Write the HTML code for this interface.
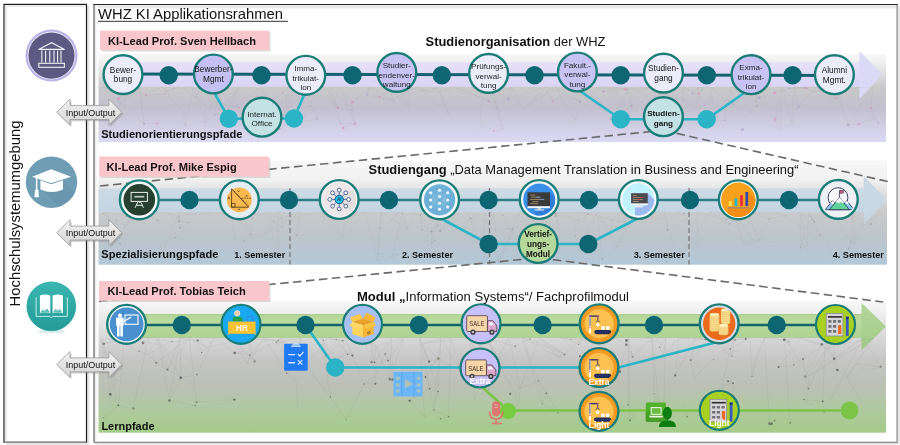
<!DOCTYPE html><html><head><meta charset="utf-8"><style>
html,body{margin:0;padding:0;background:#fff;width:900px;height:445px;overflow:hidden}
svg{display:block;font-family:"Liberation Sans", sans-serif;will-change:transform}
</style></head><body>
<svg width="900" height="445" viewBox="0 0 900 445">
<defs>
<linearGradient id="gTopSh" x1="0" y1="0" x2="0" y2="1"><stop offset="0" stop-color="#efefef"/><stop offset="0.4" stop-color="#e5e5e5"/><stop offset="1" stop-color="#ffffff"/></linearGradient>
<linearGradient id="gLeftSh" x1="0" y1="0" x2="1" y2="0"><stop offset="0" stop-color="#e8e8e8"/><stop offset="1" stop-color="#ffffff"/></linearGradient>
<linearGradient id="gIO" x1="0" y1="0" x2="0" y2="1"><stop offset="0" stop-color="#f2f2f2"/><stop offset="1" stop-color="#d4d4d4"/></linearGradient>
<linearGradient id="gB1" x1="0" y1="54" x2="0" y2="142" gradientUnits="userSpaceOnUse">
 <stop offset="0" stop-color="#f7f7f7"/><stop offset="0.09" stop-color="#f0f0f0"/>
 <stop offset="0.38" stop-color="#c9c9cb"/><stop offset="0.6" stop-color="#c2c0cc"/>
 <stop offset="1" stop-color="#dcd9f5"/></linearGradient>
<linearGradient id="gB2" x1="0" y1="160.8" x2="0" y2="264.7" gradientUnits="userSpaceOnUse">
 <stop offset="0" stop-color="#f7f7f7"/><stop offset="0.18" stop-color="#f1f1f1"/><stop offset="0.26" stop-color="#e6e6e6"/>
 <stop offset="0.5" stop-color="#c9c9ca"/><stop offset="0.75" stop-color="#bcc4cb"/>
 <stop offset="1" stop-color="#b3c8d8"/></linearGradient>
<linearGradient id="gB3" x1="0" y1="301" x2="0" y2="433" gradientUnits="userSpaceOnUse">
 <stop offset="0" stop-color="#f8f8f8"/><stop offset="0.08" stop-color="#f0f0f0"/>
 <stop offset="0.29" stop-color="#d6d6d6"/><stop offset="0.44" stop-color="#c6c6c6"/>
 <stop offset="0.63" stop-color="#bcc0b6"/><stop offset="0.8" stop-color="#b0c8a2"/>
 <stop offset="1" stop-color="#a4cc88"/></linearGradient>
<linearGradient id="gBand1" x1="0" y1="62.3" x2="0" y2="86.8" gradientUnits="userSpaceOnUse"><stop offset="0" stop-color="#e6e0fa"/><stop offset="1" stop-color="#dad4f6"/></linearGradient>
<linearGradient id="gBand2" x1="0" y1="188.3" x2="0" y2="212.4" gradientUnits="userSpaceOnUse"><stop offset="0" stop-color="#cedbe7"/><stop offset="1" stop-color="#c3d4e2"/></linearGradient>
<linearGradient id="gHead3" x1="0" y1="0" x2="0" y2="1"><stop offset="0" stop-color="#b2d69a"/><stop offset="1" stop-color="#a4cc88"/></linearGradient>
<linearGradient id="gBand3" x1="0" y1="314" x2="0" y2="338" gradientUnits="userSpaceOnUse"><stop offset="0" stop-color="#a8c890"/><stop offset="0.06" stop-color="#b4d696"/><stop offset="0.3" stop-color="#bcdca0"/><stop offset="0.6" stop-color="#b4d696"/><stop offset="1" stop-color="#aed292"/></linearGradient>
<linearGradient id="gBook" x1="0" y1="0" x2="0" y2="1"><stop offset="0" stop-color="#3ab5b0"/><stop offset="1" stop-color="#249c98"/></linearGradient>
</defs>

<path d="M88.2,6 V443.8 H6" fill="none" stroke="#e2e2e2" stroke-width="2"/>
<path d="M899,6 V443.8 H95" fill="none" stroke="#e2e2e2" stroke-width="1.6"/>
<rect x="4" y="4.4" width="82.5" height="437.9" fill="#fff" stroke="#1a1a1a" stroke-width="1.2"/>
<path d="M6,441 V6 H85.5" fill="none" stroke="#ebebeb" stroke-width="2.2"/>
<path d="M4,442.3 H86.5" fill="none" stroke="#8e8e8e" stroke-width="1.2"/>
<rect x="94" y="4.4" width="803.1" height="437.9" fill="#fff"/>
<rect x="95" y="5" width="801.5" height="4.5" fill="url(#gTopSh)"/>
<rect x="94.8" y="5" width="2.6" height="437" fill="url(#gLeftSh)"/>
<path d="M897.1,4.4 V442.3 H94" fill="none" stroke="#8c8c8c" stroke-width="1.3"/>
<path d="M94,442.3 V4.4" fill="none" stroke="#7c7c7c" stroke-width="1.5"/>
<path d="M93.3,4.45 H897.7" fill="none" stroke="#262626" stroke-width="1.1"/>
<text x="98" y="19.2" font-size="14.8" fill="#111">WHZ KI Applikationsrahmen</text>
<rect x="98" y="20.8" width="190" height="1" fill="#333"/>
<text transform="translate(19.8,306.4) rotate(-90)" font-size="14.8" fill="#111">Hochschulsystemumgebung</text>
<rect x="98.5" y="54" width="787.5" height="88" fill="url(#gB1)"/>
<rect x="112" y="62.3" width="748" height="24.5" fill="url(#gBand1)"/><polygon points="859.5,51.2 882.7,74.6 859.5,98.7" fill="#dcd9f6"/>
<g stroke="#7a7a7a" stroke-width="0.45" opacity="0.15"><line x1="101.8" y1="87.0" x2="134.1" y2="114.0"/><line x1="101.8" y1="87.0" x2="127.1" y2="93.3"/><line x1="101.8" y1="87.0" x2="146.1" y2="95.2"/><line x1="133.5" y1="87.0" x2="146.1" y2="95.2"/><line x1="133.5" y1="87.0" x2="119.9" y2="105.5"/><line x1="133.5" y1="87.0" x2="118.5" y2="98.6"/><line x1="139.8" y1="87.0" x2="116.3" y2="88.1"/><line x1="139.8" y1="87.0" x2="119.9" y2="105.5"/><line x1="139.8" y1="87.0" x2="144.0" y2="123.7"/><line x1="162.6" y1="87.0" x2="166.4" y2="91.1"/><line x1="162.6" y1="87.0" x2="181.9" y2="111.9"/><line x1="162.6" y1="87.0" x2="146.1" y2="95.2"/><line x1="193.9" y1="87.0" x2="181.8" y2="88.3"/><line x1="193.9" y1="87.0" x2="185.3" y2="125.6"/><line x1="193.9" y1="87.0" x2="205.3" y2="122.3"/><line x1="204.6" y1="87.0" x2="214.8" y2="114.8"/><line x1="204.6" y1="87.0" x2="194.8" y2="96.4"/><line x1="204.6" y1="87.0" x2="225.1" y2="104.9"/><line x1="219.4" y1="87.0" x2="214.8" y2="114.8"/><line x1="219.4" y1="87.0" x2="231.8" y2="94.3"/><line x1="219.4" y1="87.0" x2="205.3" y2="122.3"/><line x1="239.8" y1="87.0" x2="225.6" y2="114.0"/><line x1="239.8" y1="87.0" x2="225.1" y2="104.9"/><line x1="239.8" y1="87.0" x2="214.8" y2="114.8"/><line x1="260.6" y1="87.0" x2="271.5" y2="101.7"/><line x1="260.6" y1="87.0" x2="275.0" y2="111.0"/><line x1="260.6" y1="87.0" x2="235.6" y2="105.9"/><line x1="288.1" y1="87.0" x2="284.0" y2="115.2"/><line x1="288.1" y1="87.0" x2="297.8" y2="88.0"/><line x1="288.1" y1="87.0" x2="282.7" y2="92.9"/><line x1="297.6" y1="87.0" x2="300.2" y2="122.0"/><line x1="297.6" y1="87.0" x2="284.0" y2="115.2"/><line x1="297.6" y1="87.0" x2="275.0" y2="111.0"/><line x1="329.9" y1="87.0" x2="337.8" y2="107.8"/><line x1="329.9" y1="87.0" x2="340.2" y2="123.0"/><line x1="329.9" y1="87.0" x2="351.9" y2="110.1"/><line x1="341.1" y1="87.0" x2="332.1" y2="103.5"/><line x1="341.1" y1="87.0" x2="355.1" y2="123.8"/><line x1="341.1" y1="87.0" x2="352.4" y2="102.3"/><line x1="370.0" y1="87.0" x2="366.8" y2="94.9"/><line x1="370.0" y1="87.0" x2="393.8" y2="100.8"/><line x1="370.0" y1="87.0" x2="352.4" y2="102.3"/><line x1="388.7" y1="87.0" x2="393.8" y2="100.8"/><line x1="388.7" y1="87.0" x2="408.6" y2="91.1"/><line x1="388.7" y1="87.0" x2="379.7" y2="97.0"/><line x1="398.6" y1="87.0" x2="409.6" y2="107.2"/><line x1="398.6" y1="87.0" x2="430.0" y2="91.6"/><line x1="398.6" y1="87.0" x2="408.6" y2="91.1"/><line x1="417.6" y1="87.0" x2="449.2" y2="115.0"/><line x1="417.6" y1="87.0" x2="430.0" y2="91.6"/><line x1="417.6" y1="87.0" x2="408.6" y2="91.1"/><line x1="440.7" y1="87.0" x2="396.3" y2="97.0"/><line x1="440.7" y1="87.0" x2="430.0" y2="91.6"/><line x1="440.7" y1="87.0" x2="439.4" y2="91.8"/><line x1="454.4" y1="87.0" x2="488.4" y2="101.3"/><line x1="454.4" y1="87.0" x2="495.7" y2="102.9"/><line x1="454.4" y1="87.0" x2="439.4" y2="91.8"/><line x1="482.6" y1="87.0" x2="508.4" y2="98.9"/><line x1="482.6" y1="87.0" x2="495.7" y2="102.9"/><line x1="482.6" y1="87.0" x2="479.8" y2="131.0"/><line x1="492.6" y1="87.0" x2="483.9" y2="88.2"/><line x1="492.6" y1="87.0" x2="502.8" y2="128.9"/><line x1="492.6" y1="87.0" x2="498.6" y2="118.2"/><line x1="511.8" y1="87.0" x2="522.2" y2="109.7"/><line x1="511.8" y1="87.0" x2="499.9" y2="92.2"/><line x1="511.8" y1="87.0" x2="508.4" y2="98.9"/><line x1="546.6" y1="87.0" x2="522.2" y2="109.7"/><line x1="546.6" y1="87.0" x2="508.4" y2="98.9"/><line x1="546.6" y1="87.0" x2="580.2" y2="101.6"/><line x1="555.4" y1="87.0" x2="574.8" y2="120.5"/><line x1="555.4" y1="87.0" x2="580.2" y2="101.6"/><line x1="555.4" y1="87.0" x2="522.2" y2="109.7"/><line x1="579.8" y1="87.0" x2="546.9" y2="91.9"/><line x1="579.8" y1="87.0" x2="553.0" y2="101.7"/><line x1="579.8" y1="87.0" x2="610.8" y2="118.8"/><line x1="597.1" y1="87.0" x2="603.6" y2="91.5"/><line x1="597.1" y1="87.0" x2="574.8" y2="120.5"/><line x1="597.1" y1="87.0" x2="625.6" y2="89.2"/><line x1="614.5" y1="87.0" x2="603.6" y2="91.5"/><line x1="614.5" y1="87.0" x2="628.8" y2="121.7"/><line x1="614.5" y1="87.0" x2="625.6" y2="89.2"/><line x1="630.2" y1="87.0" x2="625.6" y2="89.2"/><line x1="630.2" y1="87.0" x2="610.8" y2="118.8"/><line x1="630.2" y1="87.0" x2="657.9" y2="101.5"/><line x1="663.1" y1="87.0" x2="651.2" y2="112.4"/><line x1="663.1" y1="87.0" x2="627.7" y2="89.1"/><line x1="663.1" y1="87.0" x2="652.0" y2="104.0"/><line x1="683.6" y1="87.0" x2="692.4" y2="93.5"/><line x1="683.6" y1="87.0" x2="698.8" y2="93.7"/><line x1="683.6" y1="87.0" x2="683.2" y2="99.8"/><line x1="703.2" y1="87.0" x2="697.6" y2="88.0"/><line x1="703.2" y1="87.0" x2="695.1" y2="108.5"/><line x1="703.2" y1="87.0" x2="698.8" y2="93.7"/><line x1="709.3" y1="87.0" x2="697.6" y2="88.0"/><line x1="709.3" y1="87.0" x2="725.2" y2="99.7"/><line x1="709.3" y1="87.0" x2="717.9" y2="121.2"/><line x1="730.6" y1="87.0" x2="749.0" y2="88.1"/><line x1="730.6" y1="87.0" x2="734.4" y2="104.4"/><line x1="730.6" y1="87.0" x2="724.9" y2="120.5"/><line x1="756.5" y1="87.0" x2="734.4" y2="104.4"/><line x1="756.5" y1="87.0" x2="759.4" y2="97.8"/><line x1="756.5" y1="87.0" x2="756.7" y2="106.3"/><line x1="781.8" y1="87.0" x2="775.0" y2="119.4"/><line x1="781.8" y1="87.0" x2="780.3" y2="130.3"/><line x1="781.8" y1="87.0" x2="791.9" y2="122.2"/><line x1="794.5" y1="87.0" x2="791.8" y2="113.1"/><line x1="794.5" y1="87.0" x2="798.4" y2="106.7"/><line x1="794.5" y1="87.0" x2="806.7" y2="88.2"/><line x1="816.4" y1="87.0" x2="798.4" y2="106.7"/><line x1="816.4" y1="87.0" x2="788.9" y2="88.3"/><line x1="816.4" y1="87.0" x2="814.2" y2="92.3"/><line x1="835.6" y1="87.0" x2="848.2" y2="124.8"/><line x1="835.6" y1="87.0" x2="834.2" y2="100.1"/><line x1="835.6" y1="87.0" x2="814.2" y2="92.3"/><line x1="848.9" y1="87.0" x2="834.2" y2="100.1"/><line x1="848.9" y1="87.0" x2="825.3" y2="101.6"/><line x1="848.9" y1="87.0" x2="836.3" y2="98.4"/><line x1="872.9" y1="87.0" x2="848.2" y2="124.8"/><line x1="872.9" y1="87.0" x2="850.4" y2="88.0"/><line x1="872.9" y1="87.0" x2="870.8" y2="108.1"/><line x1="205.3" y1="122.3" x2="214.8" y2="114.8"/><line x1="205.3" y1="122.3" x2="206.1" y2="106.0"/><line x1="698.8" y1="93.7" x2="697.6" y2="88.0"/><line x1="698.8" y1="93.7" x2="692.4" y2="93.5"/><line x1="488.4" y1="101.3" x2="495.7" y2="102.9"/><line x1="488.4" y1="101.3" x2="496.1" y2="107.9"/><line x1="610.8" y1="118.8" x2="628.8" y2="121.7"/><line x1="610.8" y1="118.8" x2="631.7" y2="105.7"/><line x1="173.6" y1="88.2" x2="166.4" y2="91.1"/><line x1="173.6" y1="88.2" x2="181.8" y2="88.3"/><line x1="755.2" y1="100.5" x2="759.4" y2="97.8"/><line x1="755.2" y1="100.5" x2="756.7" y2="106.3"/><line x1="697.6" y1="88.0" x2="692.4" y2="93.5"/><line x1="449.2" y1="115.0" x2="443.3" y2="103.4"/><line x1="449.2" y1="115.0" x2="439.4" y2="91.8"/><line x1="279.3" y1="128.4" x2="273.0" y2="130.4"/><line x1="279.3" y1="128.4" x2="284.0" y2="115.2"/><line x1="806.7" y1="88.2" x2="805.3" y2="88.1"/><line x1="806.7" y1="88.2" x2="814.2" y2="92.3"/><line x1="119.9" y1="105.5" x2="118.5" y2="98.6"/><line x1="119.9" y1="105.5" x2="121.9" y2="92.8"/><line x1="836.3" y1="98.4" x2="834.2" y2="100.1"/><line x1="836.3" y1="98.4" x2="830.8" y2="96.9"/><line x1="269.8" y1="100.1" x2="271.5" y2="101.7"/><line x1="269.8" y1="100.1" x2="275.0" y2="111.0"/><line x1="122.8" y1="92.6" x2="121.9" y2="92.8"/><line x1="122.8" y1="92.6" x2="127.1" y2="93.3"/><line x1="443.3" y1="103.4" x2="439.4" y2="91.8"/><line x1="282.7" y1="92.9" x2="271.5" y2="101.7"/><line x1="271.5" y1="101.7" x2="275.0" y2="111.0"/><line x1="327.2" y1="88.1" x2="332.1" y2="103.5"/><line x1="327.2" y1="88.1" x2="337.8" y2="107.8"/><line x1="756.7" y1="106.3" x2="750.7" y2="112.1"/><line x1="603.6" y1="91.5" x2="625.6" y2="89.2"/><line x1="603.6" y1="91.5" x2="627.7" y2="89.1"/><line x1="878.2" y1="123.1" x2="873.8" y2="118.5"/><line x1="878.2" y1="123.1" x2="870.8" y2="108.1"/><line x1="194.8" y1="96.4" x2="206.1" y2="106.0"/><line x1="194.8" y1="96.4" x2="181.8" y2="88.3"/><line x1="665.6" y1="114.4" x2="651.2" y2="112.4"/><line x1="665.6" y1="114.4" x2="657.9" y2="101.5"/><line x1="834.2" y1="100.1" x2="830.8" y2="96.9"/><line x1="337.8" y1="107.8" x2="332.1" y2="103.5"/><line x1="337.8" y1="107.8" x2="351.9" y2="110.1"/><line x1="791.9" y1="122.2" x2="794.8" y2="116.0"/><line x1="791.9" y1="122.2" x2="791.8" y2="113.1"/><line x1="496.1" y1="107.9" x2="495.7" y2="102.9"/><line x1="127.1" y1="93.3" x2="121.9" y2="92.8"/><line x1="725.2" y1="99.7" x2="725.5" y2="104.3"/><line x1="725.2" y1="99.7" x2="734.4" y2="104.4"/><line x1="235.6" y1="105.9" x2="238.9" y2="107.7"/><line x1="235.6" y1="105.9" x2="225.1" y2="104.9"/><line x1="651.2" y1="112.4" x2="652.0" y2="104.0"/><line x1="651.2" y1="112.4" x2="657.9" y2="101.5"/><line x1="393.8" y1="100.8" x2="396.3" y2="97.0"/><line x1="393.8" y1="100.8" x2="379.7" y2="97.0"/><line x1="498.6" y1="118.2" x2="502.8" y2="128.9"/><line x1="508.4" y1="98.9" x2="499.9" y2="92.2"/><line x1="508.4" y1="98.9" x2="495.7" y2="102.9"/><line x1="483.9" y1="88.2" x2="499.9" y2="92.2"/><line x1="134.1" y1="114.0" x2="144.0" y2="123.7"/><line x1="870.8" y1="108.1" x2="873.8" y2="118.5"/><line x1="408.6" y1="91.1" x2="396.3" y2="97.0"/><line x1="408.6" y1="91.1" x2="409.6" y2="107.2"/><line x1="493.8" y1="130.8" x2="502.8" y2="128.9"/><line x1="704.1" y1="105.4" x2="695.1" y2="108.5"/><line x1="704.1" y1="105.4" x2="713.0" y2="98.2"/><line x1="774.5" y1="92.9" x2="788.9" y2="88.3"/><line x1="774.5" y1="92.9" x2="759.4" y2="97.8"/><line x1="553.0" y1="101.7" x2="547.5" y2="92.7"/><line x1="553.0" y1="101.7" x2="546.9" y2="91.9"/><line x1="311.1" y1="105.8" x2="317.3" y2="118.7"/><line x1="311.1" y1="105.8" x2="300.2" y2="122.0"/><line x1="714.4" y1="120.7" x2="717.9" y2="121.2"/><line x1="714.4" y1="120.7" x2="724.9" y2="120.5"/><line x1="794.8" y1="116.0" x2="791.8" y2="113.1"/><line x1="734.4" y1="104.4" x2="725.5" y2="104.3"/><line x1="540.1" y1="100.2" x2="547.5" y2="92.7"/><line x1="540.1" y1="100.2" x2="546.9" y2="91.9"/><line x1="144.0" y1="123.7" x2="157.4" y2="123.5"/><line x1="546.9" y1="91.9" x2="547.1" y2="91.1"/><line x1="546.9" y1="91.9" x2="547.5" y2="92.7"/><line x1="379.7" y1="97.0" x2="370.0" y2="88.8"/><line x1="379.7" y1="97.0" x2="366.8" y2="94.9"/><line x1="580.2" y1="101.6" x2="574.8" y2="120.5"/><line x1="238.9" y1="107.7" x2="225.1" y2="104.9"/><line x1="775.0" y1="119.4" x2="780.1" y2="108.7"/><line x1="775.0" y1="119.4" x2="780.3" y2="130.3"/><line x1="724.9" y1="120.5" x2="717.9" y2="121.2"/><line x1="300.2" y1="122.0" x2="317.3" y2="118.7"/><line x1="300.2" y1="122.0" x2="284.0" y2="115.2"/><line x1="627.7" y1="89.1" x2="625.6" y2="89.2"/><line x1="627.7" y1="89.1" x2="631.7" y2="105.7"/><line x1="113.1" y1="88.1" x2="116.3" y2="88.1"/><line x1="185.8" y1="109.7" x2="181.9" y2="111.9"/><line x1="185.8" y1="109.7" x2="185.3" y2="125.6"/><line x1="370.0" y1="88.8" x2="365.9" y2="92.3"/><line x1="370.0" y1="88.8" x2="366.8" y2="94.9"/><line x1="225.1" y1="104.9" x2="225.6" y2="114.0"/><line x1="657.9" y1="101.5" x2="652.0" y2="104.0"/><line x1="352.4" y1="102.3" x2="351.9" y2="110.1"/><line x1="430.0" y1="91.6" x2="439.4" y2="91.8"/><line x1="185.3" y1="125.6" x2="181.9" y2="111.9"/><line x1="214.8" y1="114.8" x2="225.6" y2="114.0"/><line x1="631.7" y1="105.7" x2="628.8" y2="121.7"/><line x1="273.0" y1="130.4" x2="284.0" y2="115.2"/><line x1="275.0" y1="111.0" x2="284.0" y2="115.2"/><line x1="409.6" y1="107.2" x2="396.3" y2="97.0"/><line x1="351.9" y1="110.1" x2="355.1" y2="123.8"/><line x1="146.1" y1="95.2" x2="164.1" y2="94.1"/><line x1="858.8" y1="124.0" x2="848.2" y2="124.8"/><line x1="858.8" y1="124.0" x2="873.8" y2="118.5"/><line x1="340.2" y1="123.0" x2="343.3" y2="128.1"/><line x1="340.2" y1="123.0" x2="355.1" y2="123.8"/><line x1="343.3" y1="128.1" x2="355.1" y2="123.8"/><line x1="683.2" y1="99.8" x2="695.1" y2="108.5"/><line x1="788.9" y1="88.3" x2="805.3" y2="88.1"/><line x1="547.1" y1="91.1" x2="547.5" y2="92.7"/><line x1="805.3" y1="88.1" x2="814.2" y2="92.3"/><line x1="365.9" y1="92.3" x2="366.8" y2="94.9"/><line x1="791.8" y1="113.1" x2="798.4" y2="106.7"/><line x1="166.4" y1="91.1" x2="164.1" y2="94.1"/></g><g opacity="0.5"><circle cx="205.3" cy="122.3" r="0.67" fill="#c888c8"/><circle cx="698.8" cy="93.7" r="1.10" fill="#e27ab4"/><circle cx="488.4" cy="101.3" r="1.19" fill="#c888c8"/><circle cx="610.8" cy="118.8" r="1.27" fill="#a890c8"/><circle cx="173.6" cy="88.2" r="0.76" fill="#c888c8"/><circle cx="697.6" cy="88.0" r="0.80" fill="#d890c8"/><circle cx="279.3" cy="128.4" r="1.41" fill="#a890c8"/><circle cx="806.7" cy="88.2" r="0.99" fill="#d890c8"/><circle cx="836.3" cy="98.4" r="1.16" fill="#d890c8"/><circle cx="122.8" cy="92.6" r="1.12" fill="#d890c8"/><circle cx="282.7" cy="92.9" r="1.07" fill="#d890c8"/><circle cx="756.7" cy="106.3" r="0.88" fill="#a890c8"/><circle cx="603.6" cy="91.5" r="1.25" fill="#c888c8"/><circle cx="878.2" cy="123.1" r="0.80" fill="#c888c8"/><circle cx="194.8" cy="96.4" r="0.69" fill="#d890c8"/><circle cx="665.6" cy="114.4" r="1.33" fill="#e27ab4"/><circle cx="750.7" cy="112.1" r="0.63" fill="#a890c8"/><circle cx="337.8" cy="107.8" r="1.35" fill="#e27ab4"/><circle cx="496.1" cy="107.9" r="0.80" fill="#d890c8"/><circle cx="127.1" cy="93.3" r="0.94" fill="#d890c8"/><circle cx="235.6" cy="105.9" r="0.86" fill="#a890c8"/><circle cx="651.2" cy="112.4" r="1.24" fill="#c888c8"/><circle cx="393.8" cy="100.8" r="0.70" fill="#d890c8"/><circle cx="508.4" cy="98.9" r="1.32" fill="#a890c8"/><circle cx="483.9" cy="88.2" r="0.94" fill="#c888c8"/><circle cx="870.8" cy="108.1" r="1.39" fill="#d890c8"/><circle cx="493.8" cy="130.8" r="0.95" fill="#e27ab4"/><circle cx="704.1" cy="105.4" r="0.83" fill="#e27ab4"/><circle cx="774.5" cy="92.9" r="1.36" fill="#e27ab4"/><circle cx="502.8" cy="128.9" r="0.65" fill="#d890c8"/><circle cx="553.0" cy="101.7" r="0.85" fill="#e27ab4"/><circle cx="311.1" cy="105.8" r="0.77" fill="#a890c8"/><circle cx="144.0" cy="123.7" r="1.17" fill="#c888c8"/><circle cx="495.7" cy="102.9" r="0.65" fill="#d890c8"/><circle cx="379.7" cy="97.0" r="1.14" fill="#e27ab4"/><circle cx="580.2" cy="101.6" r="1.08" fill="#a890c8"/><circle cx="238.9" cy="107.7" r="0.84" fill="#e27ab4"/><circle cx="775.0" cy="119.4" r="1.48" fill="#d890c8"/><circle cx="724.9" cy="120.5" r="0.78" fill="#a890c8"/><circle cx="627.7" cy="89.1" r="0.68" fill="#a890c8"/><circle cx="113.1" cy="88.1" r="0.69" fill="#c888c8"/><circle cx="692.4" cy="93.5" r="1.08" fill="#a890c8"/><circle cx="657.9" cy="101.5" r="1.26" fill="#c888c8"/><circle cx="352.4" cy="102.3" r="1.32" fill="#e27ab4"/><circle cx="118.5" cy="98.6" r="1.37" fill="#e27ab4"/><circle cx="185.3" cy="125.6" r="0.72" fill="#a890c8"/><circle cx="116.3" cy="88.1" r="0.98" fill="#d890c8"/><circle cx="214.8" cy="114.8" r="0.78" fill="#c888c8"/><circle cx="225.6" cy="114.0" r="0.95" fill="#a890c8"/><circle cx="631.7" cy="105.7" r="1.19" fill="#a890c8"/><circle cx="273.0" cy="130.4" r="1.10" fill="#e27ab4"/><circle cx="409.6" cy="107.2" r="0.74" fill="#c888c8"/><circle cx="351.9" cy="110.1" r="0.89" fill="#a890c8"/><circle cx="146.1" cy="95.2" r="1.12" fill="#e27ab4"/><circle cx="858.8" cy="124.0" r="1.32" fill="#c888c8"/><circle cx="340.2" cy="123.0" r="0.89" fill="#c888c8"/><circle cx="343.3" cy="128.1" r="1.27" fill="#e27ab4"/><circle cx="683.2" cy="99.8" r="0.73" fill="#c888c8"/><circle cx="788.9" cy="88.3" r="1.01" fill="#c888c8"/><circle cx="742.4" cy="129.5" r="1.42" fill="#a890c8"/><circle cx="261.3" cy="112.4" r="1.07" fill="#c888c8"/><circle cx="355.1" cy="123.8" r="1.45" fill="#c888c8"/><circle cx="805.3" cy="88.1" r="1.02" fill="#c888c8"/><circle cx="257.5" cy="96.3" r="0.75" fill="#d890c8"/><circle cx="873.8" cy="118.5" r="0.80" fill="#d890c8"/><circle cx="628.8" cy="121.7" r="0.97" fill="#e27ab4"/><circle cx="166.4" cy="91.1" r="0.66" fill="#e27ab4"/><circle cx="759.4" cy="97.8" r="1.35" fill="#a890c8"/><circle cx="366.8" cy="94.9" r="0.93" fill="#a890c8"/><circle cx="848.2" cy="124.8" r="1.40" fill="#a890c8"/><circle cx="157.4" cy="123.5" r="1.21" fill="#d890c8"/><circle cx="164.1" cy="94.1" r="0.78" fill="#a890c8"/><circle cx="798.4" cy="106.7" r="1.04" fill="#a890c8"/><circle cx="317.3" cy="118.7" r="1.12" fill="#a890c8"/><circle cx="749.0" cy="88.1" r="1.37" fill="#a890c8"/><circle cx="625.6" cy="89.2" r="1.46" fill="#e27ab4"/></g>
<rect x="98.5" y="160.8" width="788.5" height="103.9" fill="url(#gB2)"/>
<rect x="98.5" y="188.3" width="766" height="24.1" fill="url(#gBand2)"/><polygon points="863.8,176 887,200 863.8,224.4" fill="#c8d8e5"/>
<g stroke="#7a7a7a" stroke-width="0.45" opacity="0.13"><line x1="105.6" y1="212.0" x2="112.3" y2="227.9"/><line x1="105.6" y1="212.0" x2="114.1" y2="233.4"/><line x1="105.6" y1="212.0" x2="126.3" y2="216.2"/><line x1="135.2" y1="212.0" x2="125.0" y2="223.7"/><line x1="135.2" y1="212.0" x2="128.4" y2="222.9"/><line x1="135.2" y1="212.0" x2="144.3" y2="214.2"/><line x1="141.5" y1="212.0" x2="128.4" y2="222.9"/><line x1="141.5" y1="212.0" x2="126.3" y2="216.2"/><line x1="141.5" y1="212.0" x2="124.2" y2="227.7"/><line x1="165.3" y1="212.0" x2="178.2" y2="216.8"/><line x1="165.3" y1="212.0" x2="144.3" y2="214.2"/><line x1="165.3" y1="212.0" x2="179.3" y2="221.3"/><line x1="179.4" y1="212.0" x2="163.1" y2="251.4"/><line x1="179.4" y1="212.0" x2="195.4" y2="215.1"/><line x1="179.4" y1="212.0" x2="179.3" y2="221.3"/><line x1="199.4" y1="212.0" x2="178.2" y2="216.8"/><line x1="199.4" y1="212.0" x2="242.1" y2="214.4"/><line x1="199.4" y1="212.0" x2="210.2" y2="213.7"/><line x1="231.6" y1="212.0" x2="234.8" y2="240.0"/><line x1="231.6" y1="212.0" x2="265.0" y2="253.5"/><line x1="231.6" y1="212.0" x2="242.1" y2="214.4"/><line x1="252.7" y1="212.0" x2="281.5" y2="218.0"/><line x1="252.7" y1="212.0" x2="273.9" y2="222.1"/><line x1="252.7" y1="212.0" x2="250.8" y2="234.2"/><line x1="267.0" y1="212.0" x2="281.5" y2="218.0"/><line x1="267.0" y1="212.0" x2="277.7" y2="253.1"/><line x1="267.0" y1="212.0" x2="273.9" y2="222.1"/><line x1="278.4" y1="212.0" x2="277.7" y2="253.1"/><line x1="278.4" y1="212.0" x2="285.1" y2="213.2"/><line x1="278.4" y1="212.0" x2="263.3" y2="235.1"/><line x1="300.6" y1="212.0" x2="296.6" y2="235.3"/><line x1="300.6" y1="212.0" x2="263.3" y2="235.1"/><line x1="300.6" y1="212.0" x2="281.5" y2="218.0"/><line x1="319.2" y1="212.0" x2="332.7" y2="218.5"/><line x1="319.2" y1="212.0" x2="273.9" y2="222.1"/><line x1="319.2" y1="212.0" x2="342.8" y2="238.2"/><line x1="345.7" y1="212.0" x2="402.3" y2="213.4"/><line x1="345.7" y1="212.0" x2="344.5" y2="217.6"/><line x1="345.7" y1="212.0" x2="342.8" y2="238.2"/><line x1="365.5" y1="212.0" x2="377.4" y2="260.6"/><line x1="365.5" y1="212.0" x2="342.8" y2="238.2"/><line x1="365.5" y1="212.0" x2="332.7" y2="218.5"/><line x1="381.3" y1="212.0" x2="377.4" y2="260.6"/><line x1="381.3" y1="212.0" x2="407.2" y2="228.4"/><line x1="381.3" y1="212.0" x2="377.5" y2="253.6"/><line x1="402.2" y1="212.0" x2="392.4" y2="257.3"/><line x1="402.2" y1="212.0" x2="407.2" y2="228.4"/><line x1="402.2" y1="212.0" x2="380.3" y2="228.1"/><line x1="415.4" y1="212.0" x2="420.4" y2="214.8"/><line x1="415.4" y1="212.0" x2="407.2" y2="228.4"/><line x1="415.4" y1="212.0" x2="435.3" y2="240.4"/><line x1="441.7" y1="212.0" x2="431.6" y2="242.7"/><line x1="441.7" y1="212.0" x2="431.6" y2="231.7"/><line x1="441.7" y1="212.0" x2="440.0" y2="230.9"/><line x1="467.7" y1="212.0" x2="470.7" y2="218.2"/><line x1="467.7" y1="212.0" x2="484.2" y2="256.6"/><line x1="467.7" y1="212.0" x2="440.0" y2="230.9"/><line x1="484.3" y1="212.0" x2="464.5" y2="221.8"/><line x1="484.3" y1="212.0" x2="498.5" y2="260.8"/><line x1="484.3" y1="212.0" x2="484.2" y2="256.6"/><line x1="493.5" y1="212.0" x2="498.5" y2="260.8"/><line x1="493.5" y1="212.0" x2="495.3" y2="231.3"/><line x1="493.5" y1="212.0" x2="484.2" y2="256.6"/><line x1="519.7" y1="212.0" x2="498.5" y2="260.8"/><line x1="519.7" y1="212.0" x2="501.3" y2="257.2"/><line x1="519.7" y1="212.0" x2="500.0" y2="261.9"/><line x1="542.4" y1="212.0" x2="512.6" y2="229.2"/><line x1="542.4" y1="212.0" x2="578.6" y2="220.6"/><line x1="542.4" y1="212.0" x2="545.1" y2="256.3"/><line x1="554.8" y1="212.0" x2="555.6" y2="213.6"/><line x1="554.8" y1="212.0" x2="578.6" y2="220.6"/><line x1="554.8" y1="212.0" x2="588.6" y2="214.0"/><line x1="584.4" y1="212.0" x2="611.9" y2="220.0"/><line x1="584.4" y1="212.0" x2="555.6" y2="213.6"/><line x1="584.4" y1="212.0" x2="589.3" y2="248.1"/><line x1="597.2" y1="212.0" x2="602.5" y2="259.1"/><line x1="597.2" y1="212.0" x2="610.7" y2="235.1"/><line x1="597.2" y1="212.0" x2="582.3" y2="244.3"/><line x1="620.6" y1="212.0" x2="625.1" y2="221.4"/><line x1="620.6" y1="212.0" x2="643.0" y2="213.2"/><line x1="620.6" y1="212.0" x2="611.9" y2="220.0"/><line x1="635.5" y1="212.0" x2="618.1" y2="221.7"/><line x1="635.5" y1="212.0" x2="643.0" y2="213.2"/><line x1="635.5" y1="212.0" x2="616.8" y2="246.6"/><line x1="664.4" y1="212.0" x2="675.8" y2="255.3"/><line x1="664.4" y1="212.0" x2="667.4" y2="229.6"/><line x1="664.4" y1="212.0" x2="643.0" y2="213.2"/><line x1="680.7" y1="212.0" x2="683.9" y2="213.7"/><line x1="680.7" y1="212.0" x2="667.4" y2="218.8"/><line x1="680.7" y1="212.0" x2="656.2" y2="219.4"/><line x1="697.0" y1="212.0" x2="667.4" y2="229.6"/><line x1="697.0" y1="212.0" x2="698.1" y2="247.4"/><line x1="697.0" y1="212.0" x2="726.2" y2="219.8"/><line x1="709.9" y1="212.0" x2="729.3" y2="223.9"/><line x1="709.9" y1="212.0" x2="741.2" y2="214.5"/><line x1="709.9" y1="212.0" x2="691.1" y2="242.6"/><line x1="734.1" y1="212.0" x2="726.2" y2="219.8"/><line x1="734.1" y1="212.0" x2="743.2" y2="243.3"/><line x1="734.1" y1="212.0" x2="755.0" y2="243.9"/><line x1="747.3" y1="212.0" x2="759.0" y2="240.0"/><line x1="747.3" y1="212.0" x2="737.7" y2="216.1"/><line x1="747.3" y1="212.0" x2="769.5" y2="218.9"/><line x1="775.7" y1="212.0" x2="805.4" y2="228.3"/><line x1="775.7" y1="212.0" x2="785.8" y2="215.2"/><line x1="775.7" y1="212.0" x2="741.2" y2="214.5"/><line x1="799.8" y1="212.0" x2="800.6" y2="247.8"/><line x1="799.8" y1="212.0" x2="807.2" y2="245.2"/><line x1="799.8" y1="212.0" x2="820.2" y2="235.0"/><line x1="808.4" y1="212.0" x2="807.2" y2="245.2"/><line x1="808.4" y1="212.0" x2="830.7" y2="250.5"/><line x1="808.4" y1="212.0" x2="820.2" y2="235.0"/><line x1="833.2" y1="212.0" x2="814.5" y2="221.4"/><line x1="833.2" y1="212.0" x2="811.8" y2="219.8"/><line x1="833.2" y1="212.0" x2="844.3" y2="232.7"/><line x1="852.4" y1="212.0" x2="855.1" y2="243.5"/><line x1="852.4" y1="212.0" x2="852.4" y2="219.5"/><line x1="852.4" y1="212.0" x2="850.6" y2="242.1"/><line x1="870.7" y1="212.0" x2="871.1" y2="224.1"/><line x1="870.7" y1="212.0" x2="850.6" y2="242.1"/><line x1="870.7" y1="212.0" x2="855.1" y2="243.5"/><line x1="849.5" y1="258.2" x2="848.5" y2="248.3"/><line x1="849.5" y1="258.2" x2="855.1" y2="243.5"/><line x1="144.3" y1="214.2" x2="157.9" y2="220.4"/><line x1="144.3" y1="214.2" x2="128.2" y2="213.2"/><line x1="755.0" y1="243.9" x2="759.0" y2="240.0"/><line x1="755.0" y1="243.9" x2="743.2" y2="243.3"/><line x1="625.1" y1="221.4" x2="628.8" y2="216.8"/><line x1="625.1" y1="221.4" x2="618.1" y2="221.7"/><line x1="575.1" y1="236.2" x2="575.2" y2="226.3"/><line x1="575.1" y1="236.2" x2="582.3" y2="244.3"/><line x1="555.7" y1="216.1" x2="555.6" y2="213.6"/><line x1="555.7" y1="216.1" x2="558.6" y2="225.1"/><line x1="437.6" y1="225.1" x2="440.0" y2="230.9"/><line x1="437.6" y1="225.1" x2="431.6" y2="231.7"/><line x1="666.8" y1="261.6" x2="675.8" y2="255.3"/><line x1="666.8" y1="261.6" x2="691.1" y2="242.6"/><line x1="844.3" y1="232.7" x2="850.6" y2="242.1"/><line x1="844.3" y1="232.7" x2="855.1" y2="243.5"/><line x1="448.8" y1="219.8" x2="440.0" y2="230.9"/><line x1="128.2" y1="213.2" x2="126.3" y2="216.2"/><line x1="128.2" y1="213.2" x2="128.4" y2="222.9"/><line x1="464.5" y1="221.8" x2="470.7" y2="218.2"/><line x1="464.5" y1="221.8" x2="461.7" y2="231.9"/><line x1="397.9" y1="254.3" x2="392.4" y2="257.3"/><line x1="397.9" y1="254.3" x2="377.5" y2="253.6"/><line x1="512.2" y1="233.6" x2="512.6" y2="229.2"/><line x1="512.2" y1="233.6" x2="508.3" y2="228.5"/><line x1="285.1" y1="213.2" x2="281.5" y2="218.0"/><line x1="285.1" y1="213.2" x2="273.9" y2="222.1"/><line x1="354.9" y1="215.5" x2="344.5" y2="217.6"/><line x1="354.9" y1="215.5" x2="332.7" y2="218.5"/><line x1="500.0" y1="261.9" x2="498.5" y2="260.8"/><line x1="500.0" y1="261.9" x2="501.3" y2="257.2"/><line x1="628.8" y1="216.8" x2="618.1" y2="221.7"/><line x1="800.6" y1="247.8" x2="807.2" y2="245.2"/><line x1="800.6" y1="247.8" x2="805.4" y2="228.3"/><line x1="675.8" y1="255.3" x2="691.1" y2="242.6"/><line x1="698.1" y1="247.4" x2="700.5" y2="244.2"/><line x1="698.1" y1="247.4" x2="691.1" y2="242.6"/><line x1="377.4" y1="260.6" x2="377.5" y2="253.6"/><line x1="377.4" y1="260.6" x2="392.4" y2="257.3"/><line x1="854.1" y1="216.2" x2="852.4" y2="219.5"/><line x1="854.1" y1="216.2" x2="871.1" y2="224.1"/><line x1="691.1" y1="242.6" x2="700.5" y2="244.2"/><line x1="461.7" y1="231.9" x2="470.7" y2="218.2"/><line x1="484.2" y1="256.6" x2="492.7" y2="250.2"/><line x1="484.2" y1="256.6" x2="498.5" y2="260.8"/><line x1="492.7" y1="250.2" x2="501.3" y2="257.2"/><line x1="377.5" y1="253.6" x2="392.4" y2="257.3"/><line x1="805.4" y1="228.3" x2="811.8" y2="219.8"/><line x1="805.4" y1="228.3" x2="814.5" y2="221.4"/><line x1="545.1" y1="256.3" x2="558.6" y2="225.1"/><line x1="667.4" y1="229.6" x2="667.2" y2="230.2"/><line x1="667.4" y1="229.6" x2="667.4" y2="218.8"/><line x1="273.9" y1="222.1" x2="281.5" y2="218.0"/><line x1="273.9" y1="222.1" x2="282.3" y2="227.5"/><line x1="648.5" y1="216.3" x2="643.0" y2="213.2"/><line x1="648.5" y1="216.3" x2="656.2" y2="219.4"/><line x1="811.8" y1="219.8" x2="811.6" y2="217.1"/><line x1="811.8" y1="219.8" x2="814.5" y2="221.4"/><line x1="814.5" y1="221.4" x2="811.6" y2="217.1"/><line x1="850.6" y1="242.1" x2="855.1" y2="243.5"/><line x1="850.6" y1="242.1" x2="848.5" y2="248.3"/><line x1="495.3" y1="231.3" x2="508.3" y2="228.5"/><line x1="495.3" y1="231.3" x2="483.2" y2="219.5"/><line x1="610.7" y1="235.1" x2="616.8" y2="246.6"/><line x1="610.7" y1="235.1" x2="611.9" y2="220.0"/><line x1="344.5" y1="217.6" x2="332.7" y2="218.5"/><line x1="501.3" y1="257.2" x2="498.5" y2="260.8"/><line x1="588.6" y1="214.0" x2="578.6" y2="220.6"/><line x1="588.6" y1="214.0" x2="575.2" y2="226.3"/><line x1="743.2" y1="243.3" x2="759.0" y2="240.0"/><line x1="683.9" y1="213.7" x2="690.8" y2="225.2"/><line x1="683.9" y1="213.7" x2="667.4" y2="218.8"/><line x1="611.9" y1="220.0" x2="618.1" y2="221.7"/><line x1="277.7" y1="253.1" x2="266.6" y2="255.3"/><line x1="277.7" y1="253.1" x2="265.0" y2="253.5"/><line x1="183.3" y1="231.5" x2="180.0" y2="227.7"/><line x1="183.3" y1="231.5" x2="175.2" y2="237.8"/><line x1="769.5" y1="218.9" x2="785.8" y2="215.2"/><line x1="769.5" y1="218.9" x2="759.0" y2="240.0"/><line x1="265.0" y1="253.5" x2="266.6" y2="255.3"/><line x1="431.6" y1="242.7" x2="435.3" y2="240.4"/><line x1="431.6" y1="242.7" x2="431.6" y2="231.7"/><line x1="125.0" y1="223.7" x2="128.4" y2="222.9"/><line x1="125.0" y1="223.7" x2="124.2" y2="227.7"/><line x1="234.8" y1="240.0" x2="244.1" y2="241.2"/><line x1="234.8" y1="240.0" x2="250.8" y2="234.2"/><line x1="165.0" y1="258.7" x2="163.1" y2="251.4"/><line x1="165.0" y1="258.7" x2="160.0" y2="245.1"/><line x1="119.9" y1="243.5" x2="114.9" y2="240.8"/><line x1="119.9" y1="243.5" x2="114.1" y2="233.4"/><line x1="116.6" y1="219.3" x2="112.3" y2="227.9"/><line x1="737.7" y1="216.1" x2="741.2" y2="214.5"/><line x1="737.7" y1="216.1" x2="729.3" y2="223.9"/><line x1="244.1" y1="241.2" x2="250.8" y2="234.2"/><line x1="402.3" y1="213.4" x2="407.2" y2="228.4"/><line x1="402.3" y1="213.4" x2="420.4" y2="214.8"/><line x1="876.2" y1="215.9" x2="871.1" y2="224.1"/><line x1="128.4" y1="222.9" x2="124.2" y2="227.7"/><line x1="582.3" y1="244.3" x2="589.3" y2="248.1"/><line x1="188.7" y1="222.6" x2="179.3" y2="221.3"/><line x1="188.7" y1="222.6" x2="180.0" y2="227.7"/><line x1="807.2" y1="245.2" x2="820.2" y2="235.0"/><line x1="776.2" y1="242.0" x2="759.0" y2="240.0"/><line x1="470.7" y1="218.2" x2="483.2" y2="219.5"/><line x1="180.0" y1="227.7" x2="179.3" y2="221.3"/><line x1="558.6" y1="225.1" x2="555.6" y2="213.6"/><line x1="503.6" y1="215.7" x2="508.3" y2="228.5"/><line x1="503.6" y1="215.7" x2="512.6" y2="229.2"/><line x1="575.2" y1="226.3" x2="578.6" y2="220.6"/><line x1="114.1" y1="233.4" x2="112.3" y2="227.9"/><line x1="114.1" y1="233.4" x2="114.9" y2="240.8"/><line x1="210.2" y1="213.7" x2="195.4" y2="215.1"/><line x1="832.4" y1="261.6" x2="830.7" y2="250.5"/><line x1="282.3" y1="227.5" x2="281.5" y2="218.0"/><line x1="296.6" y1="235.3" x2="281.5" y2="218.0"/><line x1="589.3" y1="248.1" x2="602.5" y2="259.1"/><line x1="656.2" y1="219.4" x2="667.4" y2="218.8"/><line x1="431.6" y1="231.7" x2="427.7" y2="231.6"/><line x1="431.6" y1="231.7" x2="440.0" y2="230.9"/><line x1="103.8" y1="213.3" x2="112.3" y2="227.9"/><line x1="420.4" y1="214.8" x2="422.0" y2="229.6"/><line x1="178.2" y1="216.8" x2="179.3" y2="221.3"/><line x1="508.3" y1="228.5" x2="512.6" y2="229.2"/><line x1="342.8" y1="238.2" x2="332.7" y2="218.5"/><line x1="855.1" y1="243.5" x2="848.5" y2="248.3"/><line x1="427.7" y1="231.6" x2="422.0" y2="229.6"/><line x1="242.1" y1="214.4" x2="250.8" y2="234.2"/><line x1="729.3" y1="223.9" x2="726.2" y2="219.8"/><line x1="263.3" y1="235.1" x2="250.8" y2="234.2"/><line x1="160.0" y1="245.1" x2="163.1" y2="251.4"/><line x1="602.5" y1="259.1" x2="616.8" y2="246.6"/></g><g opacity="0.45"><circle cx="849.5" cy="258.2" r="0.47" fill="#8a8a8a"/><circle cx="625.1" cy="221.4" r="0.64" fill="#8a8a8a"/><circle cx="575.1" cy="236.2" r="0.64" fill="#8a8a8a"/><circle cx="555.7" cy="216.1" r="0.75" fill="#707070"/><circle cx="437.6" cy="225.1" r="0.68" fill="#707070"/><circle cx="666.8" cy="261.6" r="0.60" fill="#707070"/><circle cx="397.9" cy="254.3" r="0.42" fill="#707070"/><circle cx="285.1" cy="213.2" r="0.42" fill="#707070"/><circle cx="500.0" cy="261.9" r="0.75" fill="#707070"/><circle cx="800.6" cy="247.8" r="0.74" fill="#8a8a8a"/><circle cx="377.4" cy="260.6" r="0.56" fill="#8a8a8a"/><circle cx="691.1" cy="242.6" r="0.43" fill="#8a8a8a"/><circle cx="484.2" cy="256.6" r="0.55" fill="#707070"/><circle cx="545.1" cy="256.3" r="0.61" fill="#8a8a8a"/><circle cx="667.4" cy="229.6" r="0.60" fill="#707070"/><circle cx="273.9" cy="222.1" r="0.46" fill="#707070"/><circle cx="811.8" cy="219.8" r="0.63" fill="#8a8a8a"/><circle cx="814.5" cy="221.4" r="0.71" fill="#707070"/><circle cx="850.6" cy="242.1" r="0.62" fill="#8a8a8a"/><circle cx="610.7" cy="235.1" r="0.44" fill="#8a8a8a"/><circle cx="588.6" cy="214.0" r="0.71" fill="#707070"/><circle cx="811.6" cy="217.1" r="0.50" fill="#8a8a8a"/><circle cx="683.9" cy="213.7" r="0.79" fill="#707070"/><circle cx="611.9" cy="220.0" r="0.56" fill="#8a8a8a"/><circle cx="277.7" cy="253.1" r="0.80" fill="#8a8a8a"/><circle cx="769.5" cy="218.9" r="0.64" fill="#707070"/><circle cx="265.0" cy="253.5" r="0.69" fill="#707070"/><circle cx="431.6" cy="242.7" r="0.70" fill="#8a8a8a"/><circle cx="165.0" cy="258.7" r="0.54" fill="#707070"/><circle cx="119.9" cy="243.5" r="0.80" fill="#707070"/><circle cx="116.6" cy="219.3" r="0.55" fill="#707070"/><circle cx="737.7" cy="216.1" r="0.75" fill="#8a8a8a"/><circle cx="244.1" cy="241.2" r="0.75" fill="#8a8a8a"/><circle cx="402.3" cy="213.4" r="0.51" fill="#707070"/><circle cx="876.2" cy="215.9" r="0.52" fill="#8a8a8a"/><circle cx="582.3" cy="244.3" r="0.63" fill="#8a8a8a"/><circle cx="188.7" cy="222.6" r="0.59" fill="#707070"/><circle cx="124.2" cy="227.7" r="0.43" fill="#707070"/><circle cx="807.2" cy="245.2" r="0.40" fill="#8a8a8a"/><circle cx="470.7" cy="218.2" r="0.66" fill="#707070"/><circle cx="618.1" cy="221.7" r="0.58" fill="#8a8a8a"/><circle cx="180.0" cy="227.7" r="0.75" fill="#707070"/><circle cx="785.8" cy="215.2" r="0.41" fill="#707070"/><circle cx="558.6" cy="225.1" r="0.47" fill="#8a8a8a"/><circle cx="503.6" cy="215.7" r="0.42" fill="#707070"/><circle cx="114.1" cy="233.4" r="0.68" fill="#707070"/><circle cx="126.3" cy="216.2" r="0.75" fill="#707070"/><circle cx="175.2" cy="237.8" r="0.73" fill="#8a8a8a"/><circle cx="498.5" cy="260.8" r="0.68" fill="#8a8a8a"/><circle cx="282.3" cy="227.5" r="0.58" fill="#8a8a8a"/><circle cx="296.6" cy="235.3" r="0.87" fill="#8a8a8a"/><circle cx="431.6" cy="231.7" r="0.88" fill="#707070"/><circle cx="103.8" cy="213.3" r="0.62" fill="#707070"/><circle cx="420.4" cy="214.8" r="0.89" fill="#707070"/><circle cx="178.2" cy="216.8" r="0.67" fill="#8a8a8a"/><circle cx="281.5" cy="218.0" r="0.52" fill="#707070"/><circle cx="508.3" cy="228.5" r="0.42" fill="#8a8a8a"/><circle cx="266.6" cy="255.3" r="0.85" fill="#707070"/><circle cx="440.0" cy="230.9" r="0.87" fill="#707070"/><circle cx="555.6" cy="213.6" r="0.85" fill="#707070"/><circle cx="729.3" cy="223.9" r="0.68" fill="#707070"/><circle cx="507.1" cy="256.3" r="0.60" fill="#8a8a8a"/><circle cx="578.6" cy="220.6" r="0.51" fill="#8a8a8a"/><circle cx="871.1" cy="224.1" r="0.79" fill="#707070"/><circle cx="114.9" cy="240.8" r="0.63" fill="#8a8a8a"/><circle cx="179.3" cy="221.3" r="0.88" fill="#707070"/><circle cx="759.0" cy="240.0" r="0.62" fill="#8a8a8a"/><circle cx="112.3" cy="227.9" r="0.81" fill="#8a8a8a"/><circle cx="422.0" cy="229.6" r="0.70" fill="#707070"/><circle cx="157.9" cy="220.4" r="0.53" fill="#707070"/><circle cx="250.8" cy="234.2" r="0.53" fill="#8a8a8a"/><circle cx="407.2" cy="228.4" r="0.49" fill="#8a8a8a"/><circle cx="690.8" cy="225.2" r="0.51" fill="#707070"/><circle cx="602.5" cy="259.1" r="0.55" fill="#707070"/><circle cx="616.8" cy="246.6" r="0.68" fill="#8a8a8a"/><circle cx="667.2" cy="230.2" r="0.76" fill="#8a8a8a"/><circle cx="380.3" cy="228.1" r="0.71" fill="#707070"/><circle cx="726.2" cy="219.8" r="0.67" fill="#8a8a8a"/><circle cx="512.6" cy="229.2" r="0.87" fill="#8a8a8a"/><circle cx="848.5" cy="248.3" r="0.65" fill="#707070"/><circle cx="435.3" cy="240.4" r="0.70" fill="#8a8a8a"/><circle cx="820.2" cy="235.0" r="0.77" fill="#8a8a8a"/><circle cx="741.2" cy="214.5" r="0.87" fill="#8a8a8a"/></g>
<line x1="290" y1="188" x2="290" y2="264.5" stroke="#7a7a7a" stroke-width="1.3" stroke-dasharray="5,3"/>
<line x1="489.5" y1="188" x2="489.5" y2="264.5" stroke="#7a7a7a" stroke-width="1.3" stroke-dasharray="5,3"/>
<line x1="689" y1="188" x2="689" y2="264.5" stroke="#7a7a7a" stroke-width="1.3" stroke-dasharray="5,3"/>
<rect x="98.5" y="301" width="787.5" height="131.7" fill="url(#gB3)"/>
<rect x="118" y="314" width="744" height="24" fill="url(#gBand3)"/><polygon points="861.5,302.8 886,326.4 861.5,350.5" fill="url(#gHead3)"/>
<g stroke="#7a7a7a" stroke-width="0.45" opacity="0.22"><line x1="101.2" y1="338.0" x2="117.4" y2="340.3"/><line x1="101.2" y1="338.0" x2="115.7" y2="380.6"/><line x1="101.2" y1="338.0" x2="110.3" y2="394.3"/><line x1="101.2" y1="338.0" x2="118.4" y2="405.4"/><line x1="124.4" y1="338.0" x2="118.4" y2="405.4"/><line x1="124.4" y1="338.0" x2="117.4" y2="340.3"/><line x1="124.4" y1="338.0" x2="162.6" y2="345.5"/><line x1="124.4" y1="338.0" x2="103.8" y2="343.7"/><line x1="148.4" y1="338.0" x2="133.3" y2="408.5"/><line x1="148.4" y1="338.0" x2="172.0" y2="341.7"/><line x1="148.4" y1="338.0" x2="156.1" y2="362.8"/><line x1="148.4" y1="338.0" x2="143.0" y2="342.9"/><line x1="158.0" y1="338.0" x2="169.4" y2="400.6"/><line x1="158.0" y1="338.0" x2="147.9" y2="354.9"/><line x1="158.0" y1="338.0" x2="180.9" y2="377.8"/><line x1="158.0" y1="338.0" x2="167.5" y2="369.6"/><line x1="180.1" y1="338.0" x2="167.5" y2="369.6"/><line x1="180.1" y1="338.0" x2="169.4" y2="400.6"/><line x1="180.1" y1="338.0" x2="197.7" y2="340.5"/><line x1="180.1" y1="338.0" x2="180.9" y2="377.8"/><line x1="189.3" y1="338.0" x2="206.6" y2="347.7"/><line x1="189.3" y1="338.0" x2="156.1" y2="362.8"/><line x1="189.3" y1="338.0" x2="196.5" y2="402.1"/><line x1="189.3" y1="338.0" x2="167.5" y2="369.6"/><line x1="214.2" y1="338.0" x2="197.0" y2="374.6"/><line x1="214.2" y1="338.0" x2="234.7" y2="353.1"/><line x1="214.2" y1="338.0" x2="172.0" y2="341.7"/><line x1="214.2" y1="338.0" x2="206.6" y2="347.7"/><line x1="232.5" y1="338.0" x2="246.9" y2="363.7"/><line x1="232.5" y1="338.0" x2="278.3" y2="340.5"/><line x1="232.5" y1="338.0" x2="254.7" y2="361.4"/><line x1="232.5" y1="338.0" x2="243.9" y2="351.6"/><line x1="248.8" y1="338.0" x2="249.8" y2="355.2"/><line x1="248.8" y1="338.0" x2="206.6" y2="347.7"/><line x1="248.8" y1="338.0" x2="278.3" y2="340.5"/><line x1="248.8" y1="338.0" x2="254.7" y2="361.4"/><line x1="264.0" y1="338.0" x2="246.9" y2="363.7"/><line x1="264.0" y1="338.0" x2="249.8" y2="355.2"/><line x1="264.0" y1="338.0" x2="303.3" y2="348.8"/><line x1="264.0" y1="338.0" x2="286.6" y2="373.5"/><line x1="281.0" y1="338.0" x2="276.4" y2="342.6"/><line x1="281.0" y1="338.0" x2="286.6" y2="373.5"/><line x1="281.0" y1="338.0" x2="249.8" y2="355.2"/><line x1="281.0" y1="338.0" x2="289.8" y2="345.6"/><line x1="300.6" y1="338.0" x2="276.4" y2="342.6"/><line x1="300.6" y1="338.0" x2="286.6" y2="373.5"/><line x1="300.6" y1="338.0" x2="296.9" y2="365.5"/><line x1="300.6" y1="338.0" x2="310.6" y2="371.9"/><line x1="321.6" y1="338.0" x2="342.8" y2="340.8"/><line x1="321.6" y1="338.0" x2="335.5" y2="358.9"/><line x1="321.6" y1="338.0" x2="330.4" y2="397.0"/><line x1="321.6" y1="338.0" x2="323.4" y2="340.4"/><line x1="328.6" y1="338.0" x2="342.8" y2="340.8"/><line x1="328.6" y1="338.0" x2="323.4" y2="340.4"/><line x1="328.6" y1="338.0" x2="305.5" y2="366.2"/><line x1="328.6" y1="338.0" x2="352.4" y2="355.6"/><line x1="345.2" y1="338.0" x2="342.8" y2="340.8"/><line x1="345.2" y1="338.0" x2="364.0" y2="384.1"/><line x1="345.2" y1="338.0" x2="375.8" y2="346.5"/><line x1="345.2" y1="338.0" x2="326.6" y2="356.1"/><line x1="371.8" y1="338.0" x2="342.8" y2="340.8"/><line x1="371.8" y1="338.0" x2="371.5" y2="362.2"/><line x1="371.8" y1="338.0" x2="389.4" y2="378.5"/><line x1="371.8" y1="338.0" x2="375.1" y2="377.5"/><line x1="391.5" y1="338.0" x2="392.6" y2="379.4"/><line x1="391.5" y1="338.0" x2="389.4" y2="378.5"/><line x1="391.5" y1="338.0" x2="374.6" y2="362.3"/><line x1="391.5" y1="338.0" x2="375.1" y2="377.5"/><line x1="403.4" y1="338.0" x2="390.0" y2="379.4"/><line x1="403.4" y1="338.0" x2="388.1" y2="360.5"/><line x1="403.4" y1="338.0" x2="385.3" y2="354.0"/><line x1="403.4" y1="338.0" x2="375.8" y2="346.5"/><line x1="419.8" y1="338.0" x2="438.1" y2="391.6"/><line x1="419.8" y1="338.0" x2="424.4" y2="417.3"/><line x1="419.8" y1="338.0" x2="431.6" y2="367.0"/><line x1="419.8" y1="338.0" x2="433.9" y2="410.0"/><line x1="441.0" y1="338.0" x2="461.0" y2="371.3"/><line x1="441.0" y1="338.0" x2="433.9" y2="410.0"/><line x1="441.0" y1="338.0" x2="438.1" y2="391.6"/><line x1="441.0" y1="338.0" x2="421.8" y2="344.0"/><line x1="451.0" y1="338.0" x2="461.0" y2="371.3"/><line x1="451.0" y1="338.0" x2="431.6" y2="367.0"/><line x1="451.0" y1="338.0" x2="448.6" y2="416.8"/><line x1="451.0" y1="338.0" x2="421.8" y2="344.0"/><line x1="469.6" y1="338.0" x2="421.8" y2="344.0"/><line x1="469.6" y1="338.0" x2="474.1" y2="398.5"/><line x1="469.6" y1="338.0" x2="489.0" y2="389.7"/><line x1="469.6" y1="338.0" x2="497.7" y2="359.6"/><line x1="486.1" y1="338.0" x2="520.1" y2="388.8"/><line x1="486.1" y1="338.0" x2="515.2" y2="346.2"/><line x1="486.1" y1="338.0" x2="519.2" y2="402.5"/><line x1="486.1" y1="338.0" x2="497.7" y2="359.6"/><line x1="508.9" y1="338.0" x2="474.1" y2="398.5"/><line x1="508.9" y1="338.0" x2="530.0" y2="339.1"/><line x1="508.9" y1="338.0" x2="497.7" y2="359.6"/><line x1="508.9" y1="338.0" x2="520.1" y2="388.8"/><line x1="522.5" y1="338.0" x2="542.2" y2="403.8"/><line x1="522.5" y1="338.0" x2="559.9" y2="357.6"/><line x1="522.5" y1="338.0" x2="564.7" y2="354.6"/><line x1="522.5" y1="338.0" x2="538.5" y2="381.0"/><line x1="538.8" y1="338.0" x2="561.5" y2="352.2"/><line x1="538.8" y1="338.0" x2="564.7" y2="354.6"/><line x1="538.8" y1="338.0" x2="520.1" y2="388.8"/><line x1="538.8" y1="338.0" x2="559.9" y2="357.6"/><line x1="562.6" y1="338.0" x2="579.9" y2="356.2"/><line x1="562.6" y1="338.0" x2="590.6" y2="340.4"/><line x1="562.6" y1="338.0" x2="581.8" y2="339.8"/><line x1="562.6" y1="338.0" x2="578.6" y2="344.3"/><line x1="583.7" y1="338.0" x2="578.6" y2="344.3"/><line x1="583.7" y1="338.0" x2="590.6" y2="340.4"/><line x1="583.7" y1="338.0" x2="559.9" y2="357.6"/><line x1="583.7" y1="338.0" x2="591.3" y2="353.2"/><line x1="591.9" y1="338.0" x2="601.0" y2="344.0"/><line x1="591.9" y1="338.0" x2="592.8" y2="407.9"/><line x1="591.9" y1="338.0" x2="570.2" y2="339.5"/><line x1="591.9" y1="338.0" x2="590.6" y2="340.4"/><line x1="615.1" y1="338.0" x2="591.3" y2="353.2"/><line x1="615.1" y1="338.0" x2="590.6" y2="340.4"/><line x1="615.1" y1="338.0" x2="595.6" y2="340.3"/><line x1="615.1" y1="338.0" x2="626.3" y2="344.7"/><line x1="628.4" y1="338.0" x2="630.0" y2="420.3"/><line x1="628.4" y1="338.0" x2="619.7" y2="371.7"/><line x1="628.4" y1="338.0" x2="632.6" y2="357.0"/><line x1="628.4" y1="338.0" x2="628.1" y2="404.8"/><line x1="652.0" y1="338.0" x2="626.4" y2="340.4"/><line x1="652.0" y1="338.0" x2="659.9" y2="415.0"/><line x1="652.0" y1="338.0" x2="632.6" y2="357.0"/><line x1="652.0" y1="338.0" x2="654.2" y2="393.5"/><line x1="665.7" y1="338.0" x2="663.6" y2="409.9"/><line x1="665.7" y1="338.0" x2="663.3" y2="355.4"/><line x1="665.7" y1="338.0" x2="647.3" y2="341.8"/><line x1="665.7" y1="338.0" x2="659.6" y2="347.3"/><line x1="678.7" y1="338.0" x2="675.2" y2="375.4"/><line x1="678.7" y1="338.0" x2="705.5" y2="339.4"/><line x1="678.7" y1="338.0" x2="661.4" y2="359.2"/><line x1="678.7" y1="338.0" x2="707.1" y2="339.8"/><line x1="695.4" y1="338.0" x2="705.5" y2="339.4"/><line x1="695.4" y1="338.0" x2="675.2" y2="375.4"/><line x1="695.4" y1="338.0" x2="708.8" y2="339.0"/><line x1="695.4" y1="338.0" x2="690.8" y2="360.2"/><line x1="710.1" y1="338.0" x2="730.2" y2="349.0"/><line x1="710.1" y1="338.0" x2="732.1" y2="356.4"/><line x1="710.1" y1="338.0" x2="735.2" y2="339.8"/><line x1="710.1" y1="338.0" x2="690.8" y2="360.2"/><line x1="733.9" y1="338.0" x2="721.3" y2="385.9"/><line x1="733.9" y1="338.0" x2="732.1" y2="356.4"/><line x1="733.9" y1="338.0" x2="708.8" y2="339.0"/><line x1="733.9" y1="338.0" x2="722.4" y2="351.1"/><line x1="750.0" y1="338.0" x2="735.2" y2="339.8"/><line x1="750.0" y1="338.0" x2="752.0" y2="376.4"/><line x1="750.0" y1="338.0" x2="726.2" y2="339.6"/><line x1="750.0" y1="338.0" x2="730.2" y2="349.0"/><line x1="764.4" y1="338.0" x2="769.5" y2="423.7"/><line x1="764.4" y1="338.0" x2="752.0" y2="376.4"/><line x1="764.4" y1="338.0" x2="753.5" y2="364.0"/><line x1="764.4" y1="338.0" x2="784.2" y2="339.8"/><line x1="784.5" y1="338.0" x2="784.2" y2="339.8"/><line x1="784.5" y1="338.0" x2="809.3" y2="375.9"/><line x1="784.5" y1="338.0" x2="790.3" y2="345.5"/><line x1="784.5" y1="338.0" x2="789.9" y2="423.3"/><line x1="801.4" y1="338.0" x2="821.8" y2="344.3"/><line x1="801.4" y1="338.0" x2="778.6" y2="367.0"/><line x1="801.4" y1="338.0" x2="827.1" y2="348.0"/><line x1="801.4" y1="338.0" x2="784.2" y2="339.8"/><line x1="825.1" y1="338.0" x2="822.7" y2="401.2"/><line x1="825.1" y1="338.0" x2="805.3" y2="376.7"/><line x1="825.1" y1="338.0" x2="834.2" y2="358.7"/><line x1="825.1" y1="338.0" x2="827.1" y2="348.0"/><line x1="833.7" y1="338.0" x2="809.3" y2="375.9"/><line x1="833.7" y1="338.0" x2="803.0" y2="359.0"/><line x1="833.7" y1="338.0" x2="834.2" y2="358.7"/><line x1="833.7" y1="338.0" x2="808.4" y2="388.7"/><line x1="863.0" y1="338.0" x2="834.2" y2="358.7"/><line x1="863.0" y1="338.0" x2="809.3" y2="375.9"/><line x1="863.0" y1="338.0" x2="824.3" y2="412.0"/><line x1="863.0" y1="338.0" x2="880.6" y2="366.7"/><line x1="873.3" y1="338.0" x2="827.1" y2="348.0"/><line x1="873.3" y1="338.0" x2="809.3" y2="375.9"/><line x1="873.3" y1="338.0" x2="846.7" y2="376.9"/><line x1="873.3" y1="338.0" x2="834.2" y2="358.7"/><line x1="286.6" y1="373.5" x2="296.0" y2="380.6"/><line x1="286.6" y1="373.5" x2="296.9" y2="365.5"/><line x1="390.0" y1="379.4" x2="389.4" y2="378.5"/><line x1="390.0" y1="379.4" x2="392.6" y2="379.4"/><line x1="590.6" y1="340.4" x2="595.6" y2="340.3"/><line x1="590.6" y1="340.4" x2="581.8" y2="339.8"/><line x1="110.3" y1="404.9" x2="118.4" y2="405.4"/><line x1="110.3" y1="404.9" x2="110.3" y2="394.3"/><line x1="303.3" y1="348.8" x2="289.8" y2="345.6"/><line x1="303.3" y1="348.8" x2="305.5" y2="366.2"/><line x1="880.6" y1="366.7" x2="866.6" y2="371.4"/><line x1="880.6" y1="366.7" x2="856.9" y2="363.8"/><line x1="755.8" y1="367.3" x2="753.5" y2="364.0"/><line x1="755.8" y1="367.3" x2="752.0" y2="376.4"/><line x1="601.0" y1="344.0" x2="595.6" y2="340.3"/><line x1="597.7" y1="408.6" x2="592.8" y2="407.9"/><line x1="597.7" y1="408.6" x2="619.2" y2="410.9"/><line x1="510.2" y1="393.9" x2="520.1" y2="388.8"/><line x1="510.2" y1="393.9" x2="519.2" y2="402.5"/><line x1="626.4" y1="340.4" x2="626.3" y2="344.7"/><line x1="626.4" y1="340.4" x2="632.6" y2="357.0"/><line x1="694.5" y1="378.1" x2="701.7" y2="370.4"/><line x1="694.5" y1="378.1" x2="690.8" y2="360.2"/><line x1="336.2" y1="339.5" x2="342.8" y2="340.8"/><line x1="336.2" y1="339.5" x2="343.1" y2="348.0"/><line x1="778.6" y1="367.0" x2="793.8" y2="365.1"/><line x1="663.6" y1="409.9" x2="659.9" y2="415.0"/><line x1="663.6" y1="409.9" x2="654.2" y2="393.5"/><line x1="659.9" y1="415.0" x2="654.2" y2="393.5"/><line x1="409.7" y1="400.6" x2="424.4" y2="417.3"/><line x1="409.7" y1="400.6" x2="429.7" y2="388.7"/><line x1="448.6" y1="416.8" x2="440.5" y2="418.7"/><line x1="448.6" y1="416.8" x2="433.9" y2="410.0"/><line x1="789.0" y1="341.6" x2="790.3" y2="345.5"/><line x1="789.0" y1="341.6" x2="784.2" y2="339.8"/><line x1="206.6" y1="347.7" x2="201.7" y2="352.6"/><line x1="206.6" y1="347.7" x2="197.7" y2="340.5"/><line x1="856.9" y1="363.8" x2="866.6" y2="371.4"/><line x1="856.9" y1="363.8" x2="846.7" y2="376.9"/><line x1="591.3" y1="353.2" x2="579.9" y2="356.2"/><line x1="497.7" y1="359.6" x2="515.2" y2="346.2"/><line x1="497.7" y1="359.6" x2="489.0" y2="389.7"/><line x1="375.1" y1="377.5" x2="375.4" y2="383.7"/><line x1="375.1" y1="377.5" x2="364.0" y2="384.1"/><line x1="558.1" y1="412.9" x2="542.2" y2="403.8"/><line x1="558.1" y1="412.9" x2="546.3" y2="393.2"/><line x1="634.7" y1="416.0" x2="630.0" y2="420.3"/><line x1="634.7" y1="416.0" x2="628.1" y2="404.8"/><line x1="771.4" y1="423.8" x2="769.5" y2="423.7"/><line x1="771.4" y1="423.8" x2="774.7" y2="420.5"/><line x1="626.3" y1="344.7" x2="632.6" y2="357.0"/><line x1="774.7" y1="420.5" x2="769.5" y2="423.7"/><line x1="809.3" y1="375.9" x2="805.3" y2="376.7"/><line x1="809.3" y1="375.9" x2="808.4" y2="388.7"/><line x1="659.6" y1="347.3" x2="660.7" y2="342.0"/><line x1="659.6" y1="347.3" x2="663.3" y2="355.4"/><line x1="752.0" y1="376.4" x2="753.5" y2="364.0"/><line x1="323.4" y1="340.4" x2="326.6" y2="356.1"/><line x1="169.4" y1="400.6" x2="180.9" y2="377.8"/><line x1="169.4" y1="400.6" x2="195.1" y2="405.7"/><line x1="421.8" y1="344.0" x2="429.1" y2="361.5"/><line x1="421.8" y1="344.0" x2="438.4" y2="358.5"/><line x1="330.4" y1="397.0" x2="346.0" y2="419.7"/><line x1="330.4" y1="397.0" x2="310.6" y2="371.9"/><line x1="784.2" y1="339.8" x2="790.3" y2="345.5"/><line x1="581.8" y1="339.8" x2="578.6" y2="344.3"/><line x1="663.3" y1="355.4" x2="661.4" y2="359.2"/><line x1="790.6" y1="422.5" x2="789.9" y2="423.3"/><line x1="496.2" y1="424.8" x2="519.2" y2="402.5"/><line x1="342.8" y1="340.8" x2="343.1" y2="348.0"/><line x1="570.2" y1="339.5" x2="578.6" y2="344.3"/><line x1="254.7" y1="361.4" x2="249.8" y2="355.2"/><line x1="254.7" y1="361.4" x2="246.9" y2="363.7"/><line x1="133.3" y1="408.5" x2="118.4" y2="405.4"/><line x1="346.0" y1="419.7" x2="364.0" y2="384.1"/><line x1="803.0" y1="359.0" x2="793.8" y2="365.1"/><line x1="803.0" y1="359.0" x2="805.3" y2="376.7"/><line x1="461.0" y1="371.3" x2="461.3" y2="349.4"/><line x1="461.0" y1="371.3" x2="438.4" y2="358.5"/><line x1="604.8" y1="378.5" x2="619.7" y2="371.7"/><line x1="604.8" y1="378.5" x2="619.8" y2="371.2"/><line x1="538.5" y1="381.0" x2="546.3" y2="393.2"/><line x1="538.5" y1="381.0" x2="520.1" y2="388.8"/><line x1="837.4" y1="370.0" x2="846.7" y2="376.9"/><line x1="837.4" y1="370.0" x2="834.2" y2="358.7"/><line x1="438.1" y1="391.6" x2="429.7" y2="388.7"/><line x1="438.1" y1="391.6" x2="433.9" y2="410.0"/><line x1="286.3" y1="353.2" x2="289.8" y2="345.6"/><line x1="286.3" y1="353.2" x2="276.4" y2="342.6"/><line x1="530.0" y1="339.1" x2="515.2" y2="346.2"/><line x1="530.0" y1="339.1" x2="561.5" y2="352.2"/><line x1="425.5" y1="377.0" x2="431.6" y2="367.0"/><line x1="425.5" y1="377.0" x2="429.7" y2="388.7"/><line x1="115.7" y1="380.6" x2="110.3" y2="394.3"/><line x1="591.8" y1="366.4" x2="579.9" y2="356.2"/><line x1="117.4" y1="340.3" x2="103.8" y2="343.7"/><line x1="117.4" y1="340.3" x2="139.1" y2="351.2"/><line x1="630.0" y1="420.3" x2="619.2" y2="410.9"/><line x1="296.9" y1="365.5" x2="305.5" y2="366.2"/><line x1="564.7" y1="354.6" x2="561.5" y2="352.2"/><line x1="564.7" y1="354.6" x2="559.9" y2="357.6"/><line x1="385.3" y1="354.0" x2="388.1" y2="360.5"/><line x1="385.3" y1="354.0" x2="375.8" y2="346.5"/><line x1="389.4" y1="378.5" x2="392.6" y2="379.4"/><line x1="335.5" y1="358.9" x2="326.6" y2="356.1"/><line x1="335.5" y1="358.9" x2="347.7" y2="354.2"/><line x1="705.5" y1="339.4" x2="707.1" y2="339.8"/><line x1="705.5" y1="339.4" x2="708.8" y2="339.0"/><line x1="546.3" y1="393.2" x2="542.2" y2="403.8"/><line x1="343.1" y1="348.0" x2="347.7" y2="354.2"/><line x1="730.2" y1="349.0" x2="732.1" y2="356.4"/><line x1="730.2" y1="349.0" x2="722.4" y2="351.1"/><line x1="246.9" y1="363.7" x2="249.8" y2="355.2"/><line x1="647.3" y1="341.8" x2="660.7" y2="342.0"/><line x1="352.4" y1="355.6" x2="347.7" y2="354.2"/><line x1="364.0" y1="384.1" x2="375.4" y2="383.7"/><line x1="276.4" y1="342.6" x2="278.3" y2="340.5"/><line x1="276.4" y1="342.6" x2="289.8" y2="345.6"/><line x1="732.5" y1="405.0" x2="732.9" y2="383.2"/><line x1="732.5" y1="405.0" x2="721.3" y2="385.9"/><line x1="243.9" y1="351.6" x2="249.8" y2="355.2"/><line x1="243.9" y1="351.6" x2="234.7" y2="353.1"/><line x1="732.9" y1="383.2" x2="728.1" y2="381.3"/><line x1="732.9" y1="383.2" x2="721.3" y2="385.9"/><line x1="732.1" y1="356.4" x2="722.4" y2="351.1"/><line x1="201.7" y1="352.6" x2="197.7" y2="340.5"/><line x1="371.5" y1="362.2" x2="374.6" y2="362.3"/><line x1="429.1" y1="361.5" x2="431.6" y2="367.0"/><line x1="429.1" y1="361.5" x2="438.4" y2="358.5"/><line x1="821.8" y1="344.3" x2="827.1" y2="348.0"/><line x1="821.8" y1="344.3" x2="834.2" y2="358.7"/><line x1="103.7" y1="417.8" x2="118.4" y2="405.4"/><line x1="440.5" y1="418.7" x2="433.9" y2="410.0"/><line x1="827.1" y1="348.0" x2="834.2" y2="358.7"/><line x1="684.5" y1="404.8" x2="687.2" y2="416.7"/><line x1="619.8" y1="371.2" x2="619.7" y2="371.7"/><line x1="278.3" y1="340.5" x2="289.8" y2="345.6"/><line x1="561.5" y1="352.2" x2="559.9" y2="357.6"/><line x1="735.2" y1="339.8" x2="726.2" y2="339.6"/><line x1="735.2" y1="339.8" x2="745.6" y2="339.1"/><line x1="808.4" y1="388.7" x2="803.9" y2="399.5"/><line x1="808.4" y1="388.7" x2="805.3" y2="376.7"/><line x1="824.3" y1="412.0" x2="822.7" y2="401.2"/><line x1="824.3" y1="412.0" x2="803.9" y2="399.5"/><line x1="110.3" y1="394.3" x2="118.4" y2="405.4"/><line x1="234.7" y1="353.1" x2="249.8" y2="355.2"/><line x1="424.4" y1="417.3" x2="433.9" y2="410.0"/><line x1="297.9" y1="407.8" x2="296.0" y2="380.6"/><line x1="474.1" y1="398.5" x2="489.0" y2="389.7"/><line x1="375.8" y1="346.5" x2="374.6" y2="362.3"/><line x1="519.2" y1="402.5" x2="520.1" y2="388.8"/><line x1="234.3" y1="399.6" x2="196.5" y2="402.1"/><line x1="822.7" y1="401.2" x2="803.9" y2="399.5"/><line x1="592.8" y1="407.9" x2="619.2" y2="410.9"/><line x1="139.1" y1="351.2" x2="143.0" y2="342.9"/><line x1="139.1" y1="351.2" x2="147.9" y2="354.9"/><line x1="310.6" y1="371.9" x2="305.5" y2="366.2"/><line x1="431.6" y1="367.0" x2="438.4" y2="358.5"/><line x1="708.8" y1="339.0" x2="707.1" y2="339.8"/><line x1="143.0" y1="342.9" x2="147.9" y2="354.9"/><line x1="864.2" y1="406.9" x2="846.7" y2="376.9"/><line x1="167.5" y1="369.6" x2="156.1" y2="362.8"/><line x1="167.5" y1="369.6" x2="180.9" y2="377.8"/><line x1="197.0" y1="374.6" x2="180.9" y2="377.8"/><line x1="162.6" y1="345.5" x2="172.0" y2="341.7"/><line x1="162.6" y1="345.5" x2="147.9" y2="354.9"/><line x1="713.6" y1="359.2" x2="701.7" y2="370.4"/><line x1="728.1" y1="381.3" x2="721.3" y2="385.9"/><line x1="156.1" y1="362.8" x2="147.9" y2="354.9"/><line x1="196.5" y1="402.1" x2="195.1" y2="405.7"/><line x1="619.2" y1="410.9" x2="628.1" y2="404.8"/><line x1="701.7" y1="370.4" x2="690.8" y2="360.2"/><line x1="388.1" y1="360.5" x2="374.6" y2="362.3"/></g><g opacity="0.6"><circle cx="286.6" cy="373.5" r="0.73" fill="#505050"/><circle cx="390.0" cy="379.4" r="1.34" fill="#6a6e5a"/><circle cx="590.6" cy="340.4" r="1.29" fill="#6a6e5a"/><circle cx="880.6" cy="366.7" r="0.88" fill="#3a3a3a"/><circle cx="597.7" cy="408.6" r="1.20" fill="#505050"/><circle cx="510.2" cy="393.9" r="1.03" fill="#3a3a3a"/><circle cx="626.4" cy="340.4" r="1.34" fill="#3a3a3a"/><circle cx="336.2" cy="339.5" r="0.64" fill="#6a6e5a"/><circle cx="778.6" cy="367.0" r="1.08" fill="#3a3a3a"/><circle cx="663.6" cy="409.9" r="0.69" fill="#505050"/><circle cx="659.9" cy="415.0" r="0.81" fill="#6a6e5a"/><circle cx="409.7" cy="400.6" r="1.20" fill="#3a3a3a"/><circle cx="448.6" cy="416.8" r="0.77" fill="#505050"/><circle cx="789.0" cy="341.6" r="0.69" fill="#505050"/><circle cx="558.1" cy="412.9" r="0.65" fill="#505050"/><circle cx="771.4" cy="423.8" r="1.40" fill="#3a3a3a"/><circle cx="626.3" cy="344.7" r="1.27" fill="#505050"/><circle cx="774.7" cy="420.5" r="0.84" fill="#505050"/><circle cx="659.6" cy="347.3" r="0.72" fill="#6a6e5a"/><circle cx="752.0" cy="376.4" r="0.62" fill="#6a6e5a"/><circle cx="323.4" cy="340.4" r="0.52" fill="#3a3a3a"/><circle cx="769.5" cy="423.7" r="1.39" fill="#505050"/><circle cx="169.4" cy="400.6" r="1.37" fill="#505050"/><circle cx="330.4" cy="397.0" r="0.67" fill="#3a3a3a"/><circle cx="784.2" cy="339.8" r="1.31" fill="#3a3a3a"/><circle cx="790.6" cy="422.5" r="0.74" fill="#6a6e5a"/><circle cx="342.8" cy="340.8" r="0.73" fill="#3a3a3a"/><circle cx="570.2" cy="339.5" r="0.53" fill="#6a6e5a"/><circle cx="254.7" cy="361.4" r="1.19" fill="#6a6e5a"/><circle cx="578.6" cy="344.3" r="0.62" fill="#505050"/><circle cx="133.3" cy="408.5" r="1.25" fill="#6a6e5a"/><circle cx="346.0" cy="419.7" r="0.51" fill="#3a3a3a"/><circle cx="803.0" cy="359.0" r="1.08" fill="#505050"/><circle cx="461.0" cy="371.3" r="1.10" fill="#6a6e5a"/><circle cx="604.8" cy="378.5" r="0.83" fill="#6a6e5a"/><circle cx="538.5" cy="381.0" r="0.66" fill="#6a6e5a"/><circle cx="837.4" cy="370.0" r="1.25" fill="#3a3a3a"/><circle cx="438.1" cy="391.6" r="0.82" fill="#505050"/><circle cx="286.3" cy="353.2" r="0.73" fill="#505050"/><circle cx="530.0" cy="339.1" r="0.78" fill="#6a6e5a"/><circle cx="425.5" cy="377.0" r="0.94" fill="#3a3a3a"/><circle cx="632.6" cy="357.0" r="1.02" fill="#6a6e5a"/><circle cx="654.2" cy="393.5" r="0.61" fill="#6a6e5a"/><circle cx="630.0" cy="420.3" r="0.89" fill="#3a3a3a"/><circle cx="296.9" cy="365.5" r="0.96" fill="#6a6e5a"/><circle cx="564.7" cy="354.6" r="0.78" fill="#505050"/><circle cx="385.3" cy="354.0" r="0.84" fill="#505050"/><circle cx="389.4" cy="378.5" r="0.74" fill="#3a3a3a"/><circle cx="705.5" cy="339.4" r="0.85" fill="#505050"/><circle cx="546.3" cy="393.2" r="0.88" fill="#505050"/><circle cx="730.2" cy="349.0" r="0.71" fill="#3a3a3a"/><circle cx="352.4" cy="355.6" r="1.07" fill="#3a3a3a"/><circle cx="364.0" cy="384.1" r="0.75" fill="#6a6e5a"/><circle cx="793.8" cy="365.1" r="0.74" fill="#505050"/><circle cx="276.4" cy="342.6" r="0.76" fill="#6a6e5a"/><circle cx="515.2" cy="346.2" r="0.71" fill="#3a3a3a"/><circle cx="732.5" cy="405.0" r="1.31" fill="#3a3a3a"/><circle cx="732.9" cy="383.2" r="0.86" fill="#3a3a3a"/><circle cx="732.1" cy="356.4" r="0.55" fill="#6a6e5a"/><circle cx="201.7" cy="352.6" r="0.67" fill="#3a3a3a"/><circle cx="371.5" cy="362.2" r="1.36" fill="#6a6e5a"/><circle cx="429.1" cy="361.5" r="1.20" fill="#505050"/><circle cx="821.8" cy="344.3" r="1.39" fill="#505050"/><circle cx="103.7" cy="417.8" r="0.60" fill="#505050"/><circle cx="789.9" cy="423.3" r="0.82" fill="#6a6e5a"/><circle cx="440.5" cy="418.7" r="0.67" fill="#505050"/><circle cx="619.8" cy="371.2" r="0.82" fill="#505050"/><circle cx="326.6" cy="356.1" r="1.26" fill="#505050"/><circle cx="278.3" cy="340.5" r="0.81" fill="#6a6e5a"/><circle cx="735.2" cy="339.8" r="0.87" fill="#6a6e5a"/><circle cx="808.4" cy="388.7" r="0.90" fill="#6a6e5a"/><circle cx="824.3" cy="412.0" r="0.85" fill="#6a6e5a"/><circle cx="805.3" cy="376.7" r="1.17" fill="#6a6e5a"/><circle cx="110.3" cy="394.3" r="1.37" fill="#3a3a3a"/><circle cx="234.7" cy="353.1" r="1.26" fill="#3a3a3a"/><circle cx="619.7" cy="371.7" r="1.38" fill="#505050"/><circle cx="579.9" cy="356.2" r="1.02" fill="#3a3a3a"/><circle cx="234.3" cy="399.6" r="1.19" fill="#3a3a3a"/><circle cx="822.7" cy="401.2" r="1.02" fill="#505050"/><circle cx="745.6" cy="339.1" r="1.04" fill="#505050"/><circle cx="592.8" cy="407.9" r="1.01" fill="#6a6e5a"/><circle cx="139.1" cy="351.2" r="0.82" fill="#6a6e5a"/><circle cx="708.8" cy="339.0" r="1.12" fill="#505050"/><circle cx="143.0" cy="342.9" r="1.38" fill="#505050"/><circle cx="197.7" cy="340.5" r="1.04" fill="#3a3a3a"/><circle cx="167.5" cy="369.6" r="1.08" fill="#505050"/><circle cx="347.7" cy="354.2" r="0.74" fill="#3a3a3a"/><circle cx="375.4" cy="383.7" r="0.98" fill="#3a3a3a"/><circle cx="249.8" cy="355.2" r="0.90" fill="#6a6e5a"/><circle cx="197.0" cy="374.6" r="0.88" fill="#6a6e5a"/><circle cx="392.6" cy="379.4" r="1.27" fill="#505050"/><circle cx="713.6" cy="359.2" r="0.57" fill="#6a6e5a"/><circle cx="728.1" cy="381.3" r="0.99" fill="#3a3a3a"/><circle cx="438.4" cy="358.5" r="1.28" fill="#6a6e5a"/><circle cx="489.0" cy="389.7" r="0.51" fill="#505050"/><circle cx="429.7" cy="388.7" r="0.86" fill="#505050"/><circle cx="156.1" cy="362.8" r="0.95" fill="#505050"/><circle cx="433.9" cy="410.0" r="0.83" fill="#6a6e5a"/><circle cx="834.2" cy="358.7" r="1.30" fill="#3a3a3a"/><circle cx="803.9" cy="399.5" r="0.75" fill="#3a3a3a"/><circle cx="305.5" cy="366.2" r="1.16" fill="#505050"/><circle cx="196.5" cy="402.1" r="1.16" fill="#6a6e5a"/><circle cx="675.2" cy="375.4" r="1.11" fill="#3a3a3a"/><circle cx="180.9" cy="377.8" r="1.34" fill="#3a3a3a"/><circle cx="103.8" cy="343.7" r="1.30" fill="#505050"/><circle cx="707.1" cy="339.8" r="0.61" fill="#3a3a3a"/><circle cx="172.0" cy="341.7" r="0.58" fill="#3a3a3a"/><circle cx="118.4" cy="405.4" r="0.94" fill="#3a3a3a"/><circle cx="195.1" cy="405.7" r="0.63" fill="#3a3a3a"/><circle cx="628.1" cy="404.8" r="0.89" fill="#6a6e5a"/><circle cx="726.2" cy="339.6" r="0.76" fill="#6a6e5a"/><circle cx="687.2" cy="416.7" r="0.90" fill="#6a6e5a"/><circle cx="542.2" cy="403.8" r="0.51" fill="#505050"/><circle cx="690.8" cy="360.2" r="1.09" fill="#6a6e5a"/><circle cx="388.1" cy="360.5" r="1.02" fill="#505050"/><circle cx="374.6" cy="362.3" r="0.85" fill="#3a3a3a"/></g>
<line x1="100" y1="186" x2="662" y2="130.5" stroke="#6a6a6a" stroke-width="1.6" stroke-dasharray="8.5,4.5"/>
<line x1="664" y1="130.5" x2="890" y2="182" stroke="#6a6a6a" stroke-width="1.6" stroke-dasharray="8.5,4.5"/>
<line x1="99" y1="301.5" x2="536" y2="258" stroke="#6a6a6a" stroke-width="1.6" stroke-dasharray="8.5,4.5"/>
<line x1="540" y1="258" x2="883" y2="302" stroke="#6a6a6a" stroke-width="1.6" stroke-dasharray="8.5,4.5"/>
<polyline points="213.4,91 228.8,118.7 294,118.5 305.3,92" fill="none" stroke="#2ab4c6" stroke-width="2.6"/>
<polyline points="578.5,90 620.7,119.3 706.7,119.3 745.5,92" fill="none" stroke="#2ab4c6" stroke-width="2.6"/>
<line x1="123" y1="74" x2="834" y2="75.5" stroke="#16636f" stroke-width="3"/>
<circle cx="168.7" cy="75.3" r="9.2" fill="#0f6673"/>
<circle cx="261.5" cy="75.3" r="9.2" fill="#0f6673"/>
<circle cx="352.5" cy="75.3" r="9.2" fill="#0f6673"/>
<circle cx="441.8" cy="75.3" r="9.2" fill="#0f6673"/>
<circle cx="534.5" cy="75.3" r="9.2" fill="#0f6673"/>
<circle cx="620.7" cy="75.3" r="9.2" fill="#0f6673"/>
<circle cx="706.8" cy="75.3" r="9.2" fill="#0f6673"/>
<circle cx="792.6" cy="75.3" r="9.2" fill="#0f6673"/>
<circle cx="228.8" cy="118.7" r="9.2" fill="#2ab4c6"/>
<circle cx="294" cy="118.5" r="9.2" fill="#2ab4c6"/>
<circle cx="620.7" cy="119.3" r="9.2" fill="#2ab4c6"/>
<circle cx="706.7" cy="119.3" r="9.2" fill="#2ab4c6"/>
<circle cx="123" cy="74.6" r="19.4" fill="#ecebfa" stroke="#1b7d77" stroke-width="2.4"/>
<text x="123" y="72.69" text-anchor="middle" font-size="8.3" font-weight="normal" fill="#151515">Bewer-</text>
<text x="123" y="82.49" text-anchor="middle" font-size="8.3" font-weight="normal" fill="#151515">bung</text>
<circle cx="213.4" cy="74" r="19.4" fill="#c5c0f1" stroke="#1b7d77" stroke-width="2.4"/>
<text x="213.4" y="72.09" text-anchor="middle" font-size="8.3" font-weight="normal" fill="#151515">Bewerber-</text>
<text x="213.4" y="81.89" text-anchor="middle" font-size="8.3" font-weight="normal" fill="#151515">Mgmt</text>
<circle cx="305.8" cy="75.3" r="19.4" fill="#ecebfa" stroke="#1b7d77" stroke-width="2.4"/>
<text x="305.8" y="71.02" text-anchor="middle" font-size="8.1" font-weight="normal" fill="#1e1e1e">Imma-</text>
<text x="305.8" y="80.52" text-anchor="middle" font-size="8.1" font-weight="normal" fill="#1e1e1e">trikulat-</text>
<text x="305.8" y="90.02" text-anchor="middle" font-size="8.1" font-weight="normal" fill="#1e1e1e">ion</text>
<circle cx="396.8" cy="72.4" r="19.4" fill="#c8c3f2" stroke="#1b7d77" stroke-width="2.4"/>
<text x="396.8" y="68.12" text-anchor="middle" font-size="8.1" font-weight="normal" fill="#1e1e1e">Studier-</text>
<text x="396.8" y="77.62" text-anchor="middle" font-size="8.1" font-weight="normal" fill="#1e1e1e">endenver-</text>
<text x="396.8" y="87.12" text-anchor="middle" font-size="8.1" font-weight="normal" fill="#1e1e1e">waltung</text>
<circle cx="488.6" cy="73.4" r="19.4" fill="#ecebfa" stroke="#1b7d77" stroke-width="2.4"/>
<text x="488.6" y="69.12" text-anchor="middle" font-size="8.1" font-weight="normal" fill="#1e1e1e">Prüfungs-</text>
<text x="488.6" y="78.62" text-anchor="middle" font-size="8.1" font-weight="normal" fill="#1e1e1e">verwal-</text>
<text x="488.6" y="88.12" text-anchor="middle" font-size="8.1" font-weight="normal" fill="#1e1e1e">tung</text>
<circle cx="577.4" cy="72" r="19.4" fill="#c8c3f2" stroke="#1b7d77" stroke-width="2.4"/>
<text x="577.4" y="67.72" text-anchor="middle" font-size="8.1" font-weight="normal" fill="#1e1e1e">Fakult.-</text>
<text x="577.4" y="77.22" text-anchor="middle" font-size="8.1" font-weight="normal" fill="#1e1e1e">verwal-</text>
<text x="577.4" y="86.72" text-anchor="middle" font-size="8.1" font-weight="normal" fill="#1e1e1e">tung</text>
<circle cx="663.5" cy="73.1" r="19.4" fill="#ecebfa" stroke="#1b7d77" stroke-width="2.4"/>
<text x="663.5" y="71.19" text-anchor="middle" font-size="8.3" font-weight="normal" fill="#151515">Studien-</text>
<text x="663.5" y="80.99" text-anchor="middle" font-size="8.3" font-weight="normal" fill="#151515">gang</text>
<circle cx="751" cy="74.7" r="19.4" fill="#c8c3f2" stroke="#1b7d77" stroke-width="2.4"/>
<text x="751" y="70.42" text-anchor="middle" font-size="8.1" font-weight="normal" fill="#1e1e1e">Exma-</text>
<text x="751" y="79.92" text-anchor="middle" font-size="8.1" font-weight="normal" fill="#1e1e1e">trikulat-</text>
<text x="751" y="89.42" text-anchor="middle" font-size="8.1" font-weight="normal" fill="#1e1e1e">ion</text>
<circle cx="834.4" cy="74.7" r="19.4" fill="#ecebfa" stroke="#1b7d77" stroke-width="2.4"/>
<text x="834.4" y="72.79" text-anchor="middle" font-size="8.3" font-weight="normal" fill="#151515">Alumni</text>
<text x="834.4" y="82.59" text-anchor="middle" font-size="8.3" font-weight="normal" fill="#151515">Mgmt.</text>
<circle cx="262" cy="117.2" r="19.4" fill="#c4e1e5" stroke="#1b7d77" stroke-width="2.4"/>
<text x="262" y="116.57" text-anchor="middle" font-size="8.1" font-weight="normal" fill="#1e1e1e">Internat.</text>
<text x="262" y="126.47" text-anchor="middle" font-size="8.1" font-weight="normal" fill="#1e1e1e">Office</text>
<circle cx="663.4" cy="116.7" r="19.4" fill="#c4e1e5" stroke="#1b7d77" stroke-width="2.4"/>
<text x="663.4" y="116.07" text-anchor="middle" font-size="8.1" font-weight="bold" fill="#111">Studien-</text>
<text x="663.4" y="125.77" text-anchor="middle" font-size="8.1" font-weight="bold" fill="#111">gang</text>
<rect x="101.5" y="32.1" width="169" height="19.4" fill="#c9c4c4" opacity="0.6"/>
<rect x="100" y="30.6" width="169" height="19.4" fill="#f9c6cb"/>
<text x="108" y="44.6" font-size="11.1" font-weight="bold" fill="#111">KI-Lead Prof. Sven Hellbach</text>
<text x="425.6" y="45.5" font-size="12.9" fill="#111"><tspan font-weight="bold">Studienorganisation</tspan> der WHZ</text>
<text x="101.2" y="138.3" font-size="11.1" font-weight="bold" fill="#111">Studienorientierungspfade</text>
<polyline points="440,218 488.6,244 588.3,244 638.5,218" fill="none" stroke="#2ab4c6" stroke-width="2.6"/>
<line x1="139.5" y1="200" x2="838" y2="200" stroke="#2f7f89" stroke-width="2.4"/>
<circle cx="189.5" cy="200" r="9.2" fill="#0f6673"/>
<circle cx="289" cy="200" r="9.2" fill="#0f6673"/>
<circle cx="389" cy="200" r="9.2" fill="#0f6673"/>
<circle cx="488.6" cy="200" r="9.2" fill="#0f6673"/>
<circle cx="589" cy="200" r="9.2" fill="#0f6673"/>
<circle cx="690" cy="200" r="9.2" fill="#0f6673"/>
<circle cx="789" cy="200" r="9.2" fill="#0f6673"/>
<circle cx="488.6" cy="244" r="9.2" fill="#0f6673"/>
<circle cx="588.3" cy="244" r="9.2" fill="#0f6673"/>
<circle cx="139.3" cy="199.8" r="19.4" fill="#f4f8f8" stroke="#1b7d77" stroke-width="2.4"/>
<circle cx="139.3" cy="199.8" r="15.8" fill="#263f2f"/>
<clipPath id="c1393_1998"><circle cx="139.3" cy="199.8" r="15.8"/></clipPath>
<g clip-path="url(#c1393_1998)"><g transform="translate(139.3,199.8)"><rect x="-8.2" y="-7.4" width="16.3" height="9" fill="none" stroke="#e6eee6" stroke-width="1"/><rect x="-5" y="-4" width="10" height="1.8" fill="#b8c8b8"/><path d="M0,1.6 V3.2 M-1.4,2 L-4.2,8 M1.4,2 L4.2,8 M-3,5.5 H3" stroke="#e6eee6" stroke-width="1" fill="none"/></g></g>
<circle cx="239.3" cy="199.8" r="19.4" fill="#e3edf3" stroke="#1b7d77" stroke-width="2.4"/>
<circle cx="239.3" cy="199.8" r="16.8" fill="#e3edf3"/>
<clipPath id="c2393_1998"><circle cx="239.3" cy="199.8" r="16.8"/></clipPath>
<g clip-path="url(#c2393_1998)"><g transform="translate(239.3,199.8)"><circle r="12.4" fill="#f8b94f"/><path d="M-7.7,-11 V7.4 H9.3 Z" fill="none" stroke="#5a4222" stroke-width="0.9"/><path d="M-5.5,-9 L9,6 M2.5,-1.6 H11.5" stroke="#5a4222" stroke-width="0.9" stroke-dasharray="1.5,1"/><rect x="-7.7" y="3.6" width="3.4" height="3.8" fill="none" stroke="#5a4222" stroke-width="0.8"/><path d="M-1.5,-9.2 l1.4,1.4 m0,-1.4 l-1.4,1.4 M6.5,-4.8 l1.6,1.6 m0,-1.6 l-1.6,1.6 M-1,8.8 l1.4,1.4 m0,-1.4 l-1.4,1.4" stroke="#5a4222" stroke-width="0.7"/><path d="M-11.5,-0.5 l1,-2.6 l1,2.6 m-1.6,-1 h1.2" stroke="#5a4222" stroke-width="0.6" fill="none"/></g></g>
<circle cx="339.2" cy="199.5" r="19.4" fill="#f4f4f6" stroke="#1b7d77" stroke-width="2.4"/>
<circle cx="339.2" cy="199.5" r="16.8" fill="#ebe7e8"/>
<clipPath id="c3392_1995"><circle cx="339.2" cy="199.5" r="16.8"/></clipPath>
<g clip-path="url(#c3392_1995)"><g transform="translate(339.2,199.5)"><path d="M-10,-9 L12,13 A17,17 0 0 0 14,-9 Z" fill="#dedbdc" opacity="0.7"/><line x1="0" y1="0" x2="0.00" y2="-9.40" stroke="#2a4a8a" stroke-width="0.7"/><line x1="0" y1="0" x2="6.65" y2="-6.65" stroke="#2a4a8a" stroke-width="0.7"/><line x1="0" y1="0" x2="9.40" y2="0.00" stroke="#2a4a8a" stroke-width="0.7"/><line x1="0" y1="0" x2="6.65" y2="6.65" stroke="#2a4a8a" stroke-width="0.7"/><line x1="0" y1="0" x2="0.00" y2="9.40" stroke="#2a4a8a" stroke-width="0.7"/><line x1="0" y1="0" x2="-6.65" y2="6.65" stroke="#2a4a8a" stroke-width="0.7"/><line x1="0" y1="0" x2="-9.40" y2="0.00" stroke="#2a4a8a" stroke-width="0.7"/><line x1="0" y1="0" x2="-6.65" y2="-6.65" stroke="#2a4a8a" stroke-width="0.7"/><circle cx="0.00" cy="-9.40" r="1.9" fill="#fff" stroke="#2a4a8a" stroke-width="0.8"/><circle cx="6.65" cy="-6.65" r="1.9" fill="#fff" stroke="#2a4a8a" stroke-width="0.8"/><circle cx="9.40" cy="0.00" r="1.9" fill="#fff" stroke="#2a4a8a" stroke-width="0.8"/><circle cx="6.65" cy="6.65" r="1.9" fill="#fff" stroke="#2a4a8a" stroke-width="0.8"/><circle cx="0.00" cy="9.40" r="1.9" fill="#fff" stroke="#2a4a8a" stroke-width="0.8"/><circle cx="-6.65" cy="6.65" r="1.9" fill="#fff" stroke="#2a4a8a" stroke-width="0.8"/><circle cx="-9.40" cy="0.00" r="1.9" fill="#fff" stroke="#2a4a8a" stroke-width="0.8"/><circle cx="-6.65" cy="-6.65" r="1.9" fill="#fff" stroke="#2a4a8a" stroke-width="0.8"/><circle r="4.2" fill="#22c7e6" stroke="#1a3a7a" stroke-width="0.8"/><text x="0" y="1.8" text-anchor="middle" font-size="4.6" font-weight="bold" fill="#1a2a5a">AI</text></g></g>
<circle cx="439.6" cy="199.8" r="19.4" fill="#f4f8fa" stroke="#1b7d77" stroke-width="2.4"/>
<circle cx="439.6" cy="199.8" r="15.6" fill="#6cb0d8"/>
<clipPath id="c4396_1998"><circle cx="439.6" cy="199.8" r="15.6"/></clipPath>
<g clip-path="url(#c4396_1998)"><g transform="translate(439.6,199.8)"><line x1="-9" y1="-7" x2="0" y2="-9.6" stroke="#d6ecf8" stroke-width="0.35" stroke-dasharray="0.8,0.8"/><line x1="-9" y1="-7" x2="0" y2="-3.3" stroke="#d6ecf8" stroke-width="0.35" stroke-dasharray="0.8,0.8"/><line x1="-9" y1="-7" x2="0" y2="3.4" stroke="#d6ecf8" stroke-width="0.35" stroke-dasharray="0.8,0.8"/><line x1="-9" y1="-7" x2="0" y2="9.4" stroke="#d6ecf8" stroke-width="0.35" stroke-dasharray="0.8,0.8"/><line x1="-9" y1="0.3" x2="0" y2="-9.6" stroke="#d6ecf8" stroke-width="0.35" stroke-dasharray="0.8,0.8"/><line x1="-9" y1="0.3" x2="0" y2="-3.3" stroke="#d6ecf8" stroke-width="0.35" stroke-dasharray="0.8,0.8"/><line x1="-9" y1="0.3" x2="0" y2="3.4" stroke="#d6ecf8" stroke-width="0.35" stroke-dasharray="0.8,0.8"/><line x1="-9" y1="0.3" x2="0" y2="9.4" stroke="#d6ecf8" stroke-width="0.35" stroke-dasharray="0.8,0.8"/><line x1="-9" y1="7.2" x2="0" y2="-9.6" stroke="#d6ecf8" stroke-width="0.35" stroke-dasharray="0.8,0.8"/><line x1="-9" y1="7.2" x2="0" y2="-3.3" stroke="#d6ecf8" stroke-width="0.35" stroke-dasharray="0.8,0.8"/><line x1="-9" y1="7.2" x2="0" y2="3.4" stroke="#d6ecf8" stroke-width="0.35" stroke-dasharray="0.8,0.8"/><line x1="-9" y1="7.2" x2="0" y2="9.4" stroke="#d6ecf8" stroke-width="0.35" stroke-dasharray="0.8,0.8"/><line x1="0" y1="-9.6" x2="8.1" y2="-7" stroke="#d6ecf8" stroke-width="0.35" stroke-dasharray="0.8,0.8"/><line x1="0" y1="-9.6" x2="8.1" y2="0.3" stroke="#d6ecf8" stroke-width="0.35" stroke-dasharray="0.8,0.8"/><line x1="0" y1="-9.6" x2="8.1" y2="7.2" stroke="#d6ecf8" stroke-width="0.35" stroke-dasharray="0.8,0.8"/><line x1="0" y1="-3.3" x2="8.1" y2="-7" stroke="#d6ecf8" stroke-width="0.35" stroke-dasharray="0.8,0.8"/><line x1="0" y1="-3.3" x2="8.1" y2="0.3" stroke="#d6ecf8" stroke-width="0.35" stroke-dasharray="0.8,0.8"/><line x1="0" y1="-3.3" x2="8.1" y2="7.2" stroke="#d6ecf8" stroke-width="0.35" stroke-dasharray="0.8,0.8"/><line x1="0" y1="3.4" x2="8.1" y2="-7" stroke="#d6ecf8" stroke-width="0.35" stroke-dasharray="0.8,0.8"/><line x1="0" y1="3.4" x2="8.1" y2="0.3" stroke="#d6ecf8" stroke-width="0.35" stroke-dasharray="0.8,0.8"/><line x1="0" y1="3.4" x2="8.1" y2="7.2" stroke="#d6ecf8" stroke-width="0.35" stroke-dasharray="0.8,0.8"/><line x1="0" y1="9.4" x2="8.1" y2="-7" stroke="#d6ecf8" stroke-width="0.35" stroke-dasharray="0.8,0.8"/><line x1="0" y1="9.4" x2="8.1" y2="0.3" stroke="#d6ecf8" stroke-width="0.35" stroke-dasharray="0.8,0.8"/><line x1="0" y1="9.4" x2="8.1" y2="7.2" stroke="#d6ecf8" stroke-width="0.35" stroke-dasharray="0.8,0.8"/><circle cx="-9" cy="-7" r="1.5" fill="#f4fcff"/><circle cx="-9" cy="0.3" r="1.5" fill="#f4fcff"/><circle cx="-9" cy="7.2" r="1.5" fill="#f4fcff"/><circle cx="0" cy="-9.6" r="1.5" fill="#f4fcff"/><circle cx="0" cy="-3.3" r="1.5" fill="#f4fcff"/><circle cx="0" cy="3.4" r="1.5" fill="#f4fcff"/><circle cx="0" cy="9.4" r="1.5" fill="#f4fcff"/><circle cx="8.1" cy="-7" r="1.5" fill="#f4fcff"/><circle cx="8.1" cy="0.3" r="1.5" fill="#f4fcff"/><circle cx="8.1" cy="7.2" r="1.5" fill="#f4fcff"/></g></g>
<circle cx="539.2" cy="199.5" r="19.4" fill="#f4f8fa" stroke="#1b7d77" stroke-width="2.4"/>
<circle cx="539.2" cy="199.5" r="16.0" fill="#3a90e8"/>
<clipPath id="c5392_1995"><circle cx="539.2" cy="199.5" r="16.0"/></clipPath>
<g clip-path="url(#c5392_1995)"><g transform="translate(539.2,199.5)"><path d="M10.8,-7.2 L28,10 L28,30 L-4.5,30 L-4.5,11 L10.8,8.7 Z" fill="#2f7dd6"/><rect x="-11.7" y="-7.2" width="22.5" height="14" fill="#3b3b3e"/><path d="M-9,-4.5 h5 M-8,-2.3 h9 M-9,0 h12 M-7,2.2 h6 M-9,4.2 h8" stroke="#a08a5a" stroke-width="0.9"/><path d="M-3,-2.3 h4 M1,0 h4" stroke="#7a9ad8" stroke-width="0.9"/><rect x="-11.7" y="6.7" width="22.5" height="2" fill="#f4f4f4"/><rect x="-1.8" y="8.6" width="3.5" height="1.6" fill="#d8d8d8"/><rect x="-4.5" y="10" width="9.5" height="1" fill="#f4f4f4"/></g></g>
<circle cx="638.3" cy="199.5" r="19.4" fill="#f4f8fa" stroke="#1b7d77" stroke-width="2.4"/>
<circle cx="638.3" cy="199.5" r="16.0" fill="#bff2fc"/>
<clipPath id="c6383_1995"><circle cx="638.3" cy="199.5" r="16.0"/></clipPath>
<g clip-path="url(#c6383_1995)"><g transform="translate(638.3,199.5)"><path d="M9.5,-6.3 L28,12 L28,30 L-3.2,30 L-3.2,7.8 L9.5,5.4 Z" fill="#9db9f2"/><rect x="-7.2" y="-6.3" width="16.7" height="10.4" fill="#4a4a52"/><path d="M-5.5,-4 h4 M-5.5,-2 h8 M-5.5,0 h10 M-5.5,2 h6" stroke="#b09070" stroke-width="0.8"/><path d="M-1,0 h3 M2,-2 h3" stroke="#d04a4a" stroke-width="0.8"/><rect x="-7.2" y="4" width="16.7" height="1.4" fill="#f6f6f6"/><rect x="-0.6" y="5.4" width="3" height="1.6" fill="#e0e0e0"/><rect x="-3.2" y="6.8" width="8" height="1" fill="#f6f6f6"/></g></g>
<circle cx="738.3" cy="199.8" r="19.4" fill="#f4f8fa" stroke="#1b7d77" stroke-width="2.4"/>
<circle cx="738.3" cy="199.8" r="17.2" fill="#f9a11b"/>
<clipPath id="c7383_1998"><circle cx="738.3" cy="199.8" r="17.2"/></clipPath>
<g clip-path="url(#c7383_1998)"><g transform="translate(738.3,199.8)"><path d="M9.9,-7.8 L28,10 L28,30 L-10.5,30 L-10.5,8.7 L11.5,8.7 Z" fill="#f58e14"/><rect x="-9.5" y="1.3" width="3" height="5" fill="#f4e04a"/><rect x="-3.7" y="-1.5" width="2.8" height="7.8" fill="#1fb8c8"/><rect x="1.8" y="-4.6" width="2.8" height="10.9" fill="#e6303c"/><rect x="7.1" y="-7.8" width="2.8" height="14.1" fill="#3148b0"/><rect x="-10.5" y="7.4" width="22" height="1.3" fill="#9a8478"/></g></g>
<circle cx="838.3" cy="199.4" r="19.4" fill="#eef0f4" stroke="#1b7d77" stroke-width="2.4"/>
<circle cx="838.3" cy="199.4" r="16.8" fill="#eef0f4"/>
<clipPath id="c8383_1994"><circle cx="838.3" cy="199.4" r="16.8"/></clipPath>
<g clip-path="url(#c8383_1994)"><g transform="translate(838.3,199.4)"><circle cx="-0.3" cy="-1.8" r="9.9" fill="#f8f8fc" stroke="#2c2c50" stroke-width="0.9"/><path d="M-13,10.3 L-5.9,1.3 L2,10.3 Z" fill="#8ccaf2" stroke="#2c2c50" stroke-width="0.8" stroke-linejoin="round"/><path d="M-5.9,1.3 L-8.3,4.3 L-6.8,3.8 L-5.4,5 L-4,3.4 Z" fill="#fff"/><path d="M1,10.3 L8.5,1.3 L15.7,10.3 Z" fill="#8ccaf2" stroke="#2c2c50" stroke-width="0.8" stroke-linejoin="round"/><path d="M8.5,1.3 L6.3,4.2 L7.7,3.7 L9.2,4.9 L10.6,3.6 Z" fill="#fff"/><path d="M-9,10.3 L1.3,-1.9 L11,10.3 Z" fill="#5fd39a" stroke="#2c2c50" stroke-width="0.8" stroke-linejoin="round"/><path d="M1.3,-1.9 L-3.2,3.6 L-1.4,2.6 L0.3,4.1 L2.3,2.4 L4.2,3.8 L5.6,3.4 Z" fill="#fff"/><path d="M1.3,-1.9 V-9" stroke="#2c2c50" stroke-width="0.8"/><rect x="1.6" y="-9" width="3.4" height="2.8" fill="#d6577a" stroke="#2c2c50" stroke-width="0.5"/></g></g>
<circle cx="538.1" cy="243.5" r="19.4" fill="#b6d99b" stroke="#1b7d77" stroke-width="2.4"/>
<text x="538.1" y="237.05" text-anchor="middle" font-size="8.2" font-weight="bold" fill="#111">Vertief-</text>
<text x="538.1" y="247.15" text-anchor="middle" font-size="8.2" font-weight="bold" fill="#111">ungs-</text>
<text x="538.1" y="257.25" text-anchor="middle" font-size="8.2" font-weight="bold" fill="#111">Modul</text>
<rect x="100.7" y="158.0" width="169.6" height="20" fill="#c9c4c4" opacity="0.6"/>
<rect x="99.2" y="156.5" width="169.6" height="20" fill="#f9c6cb"/>
<text x="106.6" y="170.7" font-size="11.1" font-weight="bold" fill="#111">KI-Lead Prof. Mike Espig</text>
<text x="368.6" y="173.8" font-size="12.9" fill="#111"><tspan font-weight="bold">Studiengang</tspan> „Data Management Translation in Business and Engineering“</text>
<text x="101.3" y="258" font-size="11.1" font-weight="bold" fill="#111">Spezialisierungspfade</text>
<text x="285.2" y="257.6" text-anchor="end" font-size="9.1" font-weight="bold" fill="#111">1. Semester</text>
<text x="453" y="257.6" text-anchor="end" font-size="9.1" font-weight="bold" fill="#111">2. Semester</text>
<text x="684.7" y="257.6" text-anchor="end" font-size="9.1" font-weight="bold" fill="#111">3. Semester</text>
<text x="883.8" y="257.6" text-anchor="end" font-size="9.1" font-weight="bold" fill="#111">4. Semester</text>
<polyline points="305.5,325 335.3,367.5 599,367.5" fill="none" stroke="#2ab4c6" stroke-width="2.6"/>
<line x1="599" y1="372.5" x2="719.3" y2="341.5" stroke="#2ab4c6" stroke-width="2.6"/>
<polyline points="481,386 508,410.5 849.5,410.5" fill="none" stroke="#7cc447" stroke-width="2.6"/>
<line x1="127" y1="325" x2="836" y2="325" stroke="#16636f" stroke-width="2.6"/>
<circle cx="181.8" cy="325" r="9.2" fill="#0f6673"/>
<circle cx="305.5" cy="325" r="9.2" fill="#0f6673"/>
<circle cx="418.9" cy="325" r="9.2" fill="#0f6673"/>
<circle cx="542.6" cy="325" r="9.2" fill="#0f6673"/>
<circle cx="654" cy="325" r="9.2" fill="#0f6673"/>
<circle cx="776.7" cy="325" r="9.2" fill="#0f6673"/>
<circle cx="335.3" cy="367.5" r="9.2" fill="#2ab4c6"/>
<circle cx="508" cy="411" r="8" fill="#78cc40"/>
<circle cx="849.5" cy="410.4" r="8.9" fill="#7cc447"/>
<circle cx="126.6" cy="324.3" r="19.4" fill="#f2f6f8" stroke="#1b7d77" stroke-width="2.4"/>
<circle cx="126.6" cy="324.3" r="16.9" fill="#4a90d0"/>
<clipPath id="c1266_3243"><circle cx="126.6" cy="324.3" r="16.9"/></clipPath>
<g clip-path="url(#c1266_3243)"><g transform="translate(126.6,324.3)"><circle cx="-6.6" cy="-8.7" r="2" fill="#fff"/><path d="M-10.5,-6 Q-10.5,-6.7 -9.5,-6.7 H-3.8 Q-3,-6.7 -3,-6 V1.4 H-10.5 Z" fill="#fff"/><rect x="-9.6" y="1" width="2.6" height="11.2" fill="#fff"/><rect x="-6.3" y="1" width="2.6" height="11.2" fill="#fff"/><line x1="-3.5" y1="-2.5" x2="4.6" y2="-7.2" stroke="#fff" stroke-width="1.3"/><rect x="-1.6" y="-9.3" width="13" height="9.3" fill="none" stroke="#fff" stroke-width="1.1"/></g></g>
<circle cx="241" cy="324.3" r="19.4" fill="#1aa8f0" stroke="#1b7d77" stroke-width="2.4"/>
<circle cx="241" cy="324.3" r="18.2" fill="#1aa8f0"/>
<clipPath id="c2410_3243"><circle cx="241" cy="324.3" r="18.2"/></clipPath>
<g clip-path="url(#c2410_3243)"><g transform="translate(241,324.3)"><path d="M6,-7.6 h6 v4.9 h-6 z" fill="none" stroke="#3c86d8" stroke-width="0.8"/><path d="M-8.3,-2.7 V-4.8 Q-8.3,-7.6 -5.5,-7.6 H-1.2 Q1.6,-7.6 1.6,-4.8 V-2.7 Z" fill="#22a04c"/><circle cx="-3.8" cy="-11" r="2.7" fill="#f6c7a0" stroke="#f8f0e8" stroke-width="0.7"/><rect x="-12.8" y="-2.7" width="27.4" height="12.2" fill="#f9c232"/><path d="M-12.8,9.5 v1.3 M14.6,9.5 v1.3" stroke="#f9c232" stroke-width="1"/><text x="0.9" y="6.3" text-anchor="middle" font-size="8.2" font-weight="bold" fill="#fff8ee">HR</text></g></g>
<circle cx="362.5" cy="324.3" r="19.4" fill="#a8c0f0" stroke="#1b7d77" stroke-width="2.4"/>
<circle cx="362.5" cy="324.3" r="18.2" fill="#a8c0f0"/>
<clipPath id="c3625_3243"><circle cx="362.5" cy="324.3" r="18.2"/></clipPath>
<g clip-path="url(#c3625_3243)"><g transform="translate(362.5,324.3)"><polygon points="-10.2,-2.3 -12.6,-6.8 -2.6,-10.4 0.6,-5.6" fill="#fcc84a"/><polygon points="11,-2.3 13,-6.8 4,-11.7 0.6,-5.6" fill="#f7b83a"/><polygon points="-10.2,-2.3 0.6,-5.6 11,-2.3 0.6,1" fill="#e7a02a"/><polygon points="-10.2,-2.3 0.6,1 0.6,13.1 -10.2,9.8" fill="#fcd45c"/><polygon points="0.6,1 11,-2.3 11,9.8 0.6,13.1" fill="#f5b434"/><polygon points="-10.2,-2.3 0.6,1 -3,5 -13.4,1.4" fill="#fdd866"/><polygon points="11,-2.3 0.6,1 3.6,4.6 13.8,1.2" fill="#f9c446"/><path d="M4.5,8.5 l3,-1.5 M5,10 l3.5,-1.8" stroke="#6a4a2a" stroke-width="0.7"/></g></g>
<circle cx="481" cy="323.8" r="19.4" fill="#c8c0f8" stroke="#1b7d77" stroke-width="2.4"/>
<circle cx="481" cy="323.8" r="18.2" fill="#c8c0f8"/>
<clipPath id="c4810_3238"><circle cx="481" cy="323.8" r="18.2"/></clipPath>
<g clip-path="url(#c4810_3238)"><g transform="translate(481,323.8)"><path d="M6.4,-3.1 H11.8 L15.9,2 V7.7 H6.4 Z" fill="#d9a6cc" stroke="#4a3a44" stroke-width="0.8"/><path d="M8,-1.6 H11.2 L13.6,1.5 H8 Z" fill="#f2f2fa"/><rect x="-14.3" y="-8.1" width="20.7" height="15.8" rx="0.8" fill="#f6d6a8" stroke="#4a3a44" stroke-width="0.8"/><text x="-4.2" y="2.6" text-anchor="middle" font-size="7.4" fill="#3a2a2a" textLength="15" lengthAdjust="spacingAndGlyphs">SALE</text><circle cx="-8" cy="8.4" r="2.6" fill="#4a4048"/><circle cx="-8" cy="8.4" r="1.1" fill="#c8c8c8"/><circle cx="10.9" cy="8.4" r="2.6" fill="#4a4048"/><circle cx="10.9" cy="8.4" r="1.1" fill="#c8c8c8"/></g></g>
<circle cx="599.2" cy="323.8" r="19.4" fill="#f59a20" stroke="#1b7d77" stroke-width="2.4"/>
<circle cx="599.2" cy="323.8" r="14.6" fill="#fbc252"/>
<clipPath id="c5992_3238"><circle cx="599.2" cy="323.8" r="14.6"/></clipPath>
<g clip-path="url(#c5992_3238)"><g transform="translate(599.2,323.8)"><rect x="-10.1" y="-8.2" width="1.9" height="17.6" fill="#fff"/><rect x="-9.6" y="-6.5" width="0.9" height="9" fill="#2a3a6a"/><rect x="-10.1" y="-8.4" width="9.6" height="1.4" fill="#2a3a6a"/><circle cx="-9.2" cy="-7.7" r="0.8" fill="#e04080"/><circle cx="-1.3" cy="-7.7" r="0.8" fill="#e04080"/><circle cx="-9.2" cy="4" r="0.8" fill="#e04080"/><path d="M-1.3,-7 V-3.5 M-3.2,-1.5 L-1.3,-3.5 L0.6,-1.5" stroke="#2a3a6a" stroke-width="0.9" fill="none"/><circle cx="-1.3" cy="1" r="1.7" fill="#fff"/><rect x="2.2" y="2.4" width="3.4" height="3.6" fill="#fff"/><rect x="6.9" y="2.4" width="3.4" height="3.6" fill="#fff"/><rect x="-4.9" y="6.2" width="17.1" height="4.2" rx="2.1" fill="#1e2a5c"/><path d="M-3,8.3 h13" stroke="#4a5a8a" stroke-width="0.6" stroke-dasharray="1,0.8"/></g></g>
<circle cx="719.2" cy="323.8" r="19.4" fill="#d8dce8" stroke="#1b7d77" stroke-width="2.4"/>
<circle cx="719.2" cy="323.8" r="16.2" fill="#ec6a1c"/>
<clipPath id="c7192_3238"><circle cx="719.2" cy="323.8" r="16.2"/></clipPath>
<g clip-path="url(#c7192_3238)"><g transform="translate(719.2,323.8)"><rect x="-9.4" y="-10.5" width="9.4" height="18.0" rx="2" fill="#fbe29a" stroke="#e9b850" stroke-width="0.5"/><line x1="-8.9" y1="-8.3" x2="-0.5" y2="-8.3" stroke="#e8b452" stroke-width="0.5"/><line x1="-8.9" y1="-6.5" x2="-0.5" y2="-6.5" stroke="#e8b452" stroke-width="0.5"/><line x1="-8.9" y1="-4.7" x2="-0.5" y2="-4.7" stroke="#e8b452" stroke-width="0.5"/><line x1="-8.9" y1="-2.9" x2="-0.5" y2="-2.9" stroke="#e8b452" stroke-width="0.5"/><line x1="-8.9" y1="-1.1" x2="-0.5" y2="-1.1" stroke="#e8b452" stroke-width="0.5"/><line x1="-8.9" y1="0.7" x2="-0.5" y2="0.7" stroke="#e8b452" stroke-width="0.5"/><line x1="-8.9" y1="2.5" x2="-0.5" y2="2.5" stroke="#e8b452" stroke-width="0.5"/><line x1="-8.9" y1="4.3" x2="-0.5" y2="4.3" stroke="#e8b452" stroke-width="0.5"/><line x1="-8.9" y1="6.1" x2="-0.5" y2="6.1" stroke="#e8b452" stroke-width="0.5"/><ellipse cx="-4.7" cy="-9.2" rx="4.4" ry="1.3" fill="#fdf0c0"/><rect x="1.8" y="-15" width="9" height="15.3" rx="2" fill="#fbe29a" stroke="#e9b850" stroke-width="0.5"/><line x1="2.3" y1="-12.8" x2="10.3" y2="-12.8" stroke="#e8b452" stroke-width="0.5"/><line x1="2.3" y1="-11.0" x2="10.3" y2="-11.0" stroke="#e8b452" stroke-width="0.5"/><line x1="2.3" y1="-9.2" x2="10.3" y2="-9.2" stroke="#e8b452" stroke-width="0.5"/><line x1="2.3" y1="-7.4" x2="10.3" y2="-7.4" stroke="#e8b452" stroke-width="0.5"/><line x1="2.3" y1="-5.6" x2="10.3" y2="-5.6" stroke="#e8b452" stroke-width="0.5"/><line x1="2.3" y1="-3.8" x2="10.3" y2="-3.8" stroke="#e8b452" stroke-width="0.5"/><line x1="2.3" y1="-2.0" x2="10.3" y2="-2.0" stroke="#e8b452" stroke-width="0.5"/><ellipse cx="6.3" cy="-13.7" rx="4.2" ry="1.3" fill="#fdf0c0"/><rect x="-0.4" y="0.3" width="9.4" height="10.799999999999999" rx="2" fill="#fbe29a" stroke="#e9b850" stroke-width="0.5"/><line x1="0.09999999999999998" y1="2.5" x2="8.5" y2="2.5" stroke="#e8b452" stroke-width="0.5"/><line x1="0.09999999999999998" y1="4.3" x2="8.5" y2="4.3" stroke="#e8b452" stroke-width="0.5"/><line x1="0.09999999999999998" y1="6.1" x2="8.5" y2="6.1" stroke="#e8b452" stroke-width="0.5"/><line x1="0.09999999999999998" y1="7.9" x2="8.5" y2="7.9" stroke="#e8b452" stroke-width="0.5"/><line x1="0.09999999999999998" y1="9.7" x2="8.5" y2="9.7" stroke="#e8b452" stroke-width="0.5"/><ellipse cx="4.3" cy="1.6" rx="4.4" ry="1.3" fill="#fdf0c0"/></g></g>
<circle cx="835.5" cy="324.5" r="19.4" fill="#a8d020" stroke="#1b7d77" stroke-width="2.4"/>
<circle cx="835.5" cy="324.5" r="18.2" fill="#a8d020"/>
<clipPath id="c8355_3245"><circle cx="835.5" cy="324.5" r="18.2"/></clipPath>
<g clip-path="url(#c8355_3245)"><g transform="translate(835.5,324.5)"><rect x="-9.3" y="-11" width="16.7" height="22.5" fill="#d6d6da" stroke="#8a8a92" stroke-width="0.8"/><rect x="-7.6" y="-8.4" width="14" height="1.6" fill="#2a2a2a"/><rect x="-7.2" y="-4.4" width="3.2" height="2.6" rx="0.6" fill="#6e6e74"/><rect x="-2.5" y="-4.4" width="3.2" height="2.6" rx="0.6" fill="#6e6e74"/><rect x="2.2" y="-4.4" width="3.2" height="2.6" rx="0.6" fill="#6e6e74"/><rect x="-7.2" y="0.6" width="3.2" height="2.6" rx="0.6" fill="#6e6e74"/><rect x="-2.5" y="0.6" width="3.2" height="2.6" rx="0.6" fill="#6e6e74"/><rect x="-7.2" y="5.6" width="3.2" height="2.6" rx="0.6" fill="#6e6e74"/><rect x="-2.5" y="5.6" width="3.2" height="2.6" rx="0.6" fill="#6e6e74"/><rect x="2.6" y="0.6" width="3.2" height="9" rx="0.6" fill="#f06a1e"/><rect x="10.4" y="-7.8" width="2.8" height="19.2" fill="#3a58c0"/><rect x="10.4" y="-7.8" width="2.8" height="2.5" fill="#2a3a80"/></g></g>
<circle cx="480" cy="368" r="19.4" fill="#c8c0f8" stroke="#1b7d77" stroke-width="2.4"/>
<circle cx="480" cy="368" r="18.2" fill="#c8c0f8"/>
<clipPath id="c4800_3680"><circle cx="480" cy="368" r="18.2"/></clipPath>
<g clip-path="url(#c4800_3680)"><g transform="translate(480,368)"><path d="M6.4,-3.1 H11.8 L15.9,2 V7.7 H6.4 Z" fill="#d9a6cc" stroke="#4a3a44" stroke-width="0.8"/><path d="M8,-1.6 H11.2 L13.6,1.5 H8 Z" fill="#f2f2fa"/><rect x="-14.3" y="-8.1" width="20.7" height="15.8" rx="0.8" fill="#f6d6a8" stroke="#4a3a44" stroke-width="0.8"/><text x="-4.2" y="2.6" text-anchor="middle" font-size="7.4" fill="#3a2a2a" textLength="15" lengthAdjust="spacingAndGlyphs">SALE</text><circle cx="-8" cy="8.4" r="2.6" fill="#4a4048"/><circle cx="-8" cy="8.4" r="1.1" fill="#c8c8c8"/><circle cx="10.9" cy="8.4" r="2.6" fill="#4a4048"/><circle cx="10.9" cy="8.4" r="1.1" fill="#c8c8c8"/></g></g>
<text x="480" y="383.6" text-anchor="middle" font-size="8.4" font-weight="bold" fill="#fff">Extra</text>
<circle cx="599" cy="367.5" r="19.4" fill="#f59a20" stroke="#1b7d77" stroke-width="2.4"/>
<circle cx="599" cy="367.5" r="14.6" fill="#fbc252"/>
<clipPath id="c5990_3675"><circle cx="599" cy="367.5" r="14.6"/></clipPath>
<g clip-path="url(#c5990_3675)"><g transform="translate(599,367.5)"><rect x="-10.1" y="-8.2" width="1.9" height="17.6" fill="#fff"/><rect x="-9.6" y="-6.5" width="0.9" height="9" fill="#2a3a6a"/><rect x="-10.1" y="-8.4" width="9.6" height="1.4" fill="#2a3a6a"/><circle cx="-9.2" cy="-7.7" r="0.8" fill="#e04080"/><circle cx="-1.3" cy="-7.7" r="0.8" fill="#e04080"/><circle cx="-9.2" cy="4" r="0.8" fill="#e04080"/><path d="M-1.3,-7 V-3.5 M-3.2,-1.5 L-1.3,-3.5 L0.6,-1.5" stroke="#2a3a6a" stroke-width="0.9" fill="none"/><circle cx="-1.3" cy="1" r="1.7" fill="#fff"/><rect x="2.2" y="2.4" width="3.4" height="3.6" fill="#fff"/><rect x="6.9" y="2.4" width="3.4" height="3.6" fill="#fff"/><rect x="-4.9" y="6.2" width="17.1" height="4.2" rx="2.1" fill="#1e2a5c"/><path d="M-3,8.3 h13" stroke="#4a5a8a" stroke-width="0.6" stroke-dasharray="1,0.8"/></g></g>
<text x="599" y="384.5" text-anchor="middle" font-size="8.4" font-weight="bold" fill="#fff">Extra</text>
<circle cx="599" cy="411.3" r="19.4" fill="#f59a20" stroke="#1b7d77" stroke-width="2.4"/>
<circle cx="599" cy="411.3" r="14.6" fill="#fbc252"/>
<clipPath id="c5990_4113"><circle cx="599" cy="411.3" r="14.6"/></clipPath>
<g clip-path="url(#c5990_4113)"><g transform="translate(599,411.3)"><rect x="-10.1" y="-8.2" width="1.9" height="17.6" fill="#fff"/><rect x="-9.6" y="-6.5" width="0.9" height="9" fill="#2a3a6a"/><rect x="-10.1" y="-8.4" width="9.6" height="1.4" fill="#2a3a6a"/><circle cx="-9.2" cy="-7.7" r="0.8" fill="#e04080"/><circle cx="-1.3" cy="-7.7" r="0.8" fill="#e04080"/><circle cx="-9.2" cy="4" r="0.8" fill="#e04080"/><path d="M-1.3,-7 V-3.5 M-3.2,-1.5 L-1.3,-3.5 L0.6,-1.5" stroke="#2a3a6a" stroke-width="0.9" fill="none"/><circle cx="-1.3" cy="1" r="1.7" fill="#fff"/><rect x="2.2" y="2.4" width="3.4" height="3.6" fill="#fff"/><rect x="6.9" y="2.4" width="3.4" height="3.6" fill="#fff"/><rect x="-4.9" y="6.2" width="17.1" height="4.2" rx="2.1" fill="#1e2a5c"/><path d="M-3,8.3 h13" stroke="#4a5a8a" stroke-width="0.6" stroke-dasharray="1,0.8"/></g></g>
<text x="599" y="428.2" text-anchor="middle" font-size="8.4" font-weight="bold" fill="#fff">Light</text>
<circle cx="719.3" cy="410.3" r="19.4" fill="#a8d020" stroke="#1b7d77" stroke-width="2.4"/>
<circle cx="719.3" cy="410.3" r="18.2" fill="#a8d020"/>
<clipPath id="c7193_4103"><circle cx="719.3" cy="410.3" r="18.2"/></clipPath>
<g clip-path="url(#c7193_4103)"><g transform="translate(719.3,410.3)"><rect x="-9.3" y="-11" width="16.7" height="22.5" fill="#d6d6da" stroke="#8a8a92" stroke-width="0.8"/><rect x="-7.6" y="-8.4" width="14" height="1.6" fill="#2a2a2a"/><rect x="-7.2" y="-4.4" width="3.2" height="2.6" rx="0.6" fill="#6e6e74"/><rect x="-2.5" y="-4.4" width="3.2" height="2.6" rx="0.6" fill="#6e6e74"/><rect x="2.2" y="-4.4" width="3.2" height="2.6" rx="0.6" fill="#6e6e74"/><rect x="-7.2" y="0.6" width="3.2" height="2.6" rx="0.6" fill="#6e6e74"/><rect x="-2.5" y="0.6" width="3.2" height="2.6" rx="0.6" fill="#6e6e74"/><rect x="-7.2" y="5.6" width="3.2" height="2.6" rx="0.6" fill="#6e6e74"/><rect x="-2.5" y="5.6" width="3.2" height="2.6" rx="0.6" fill="#6e6e74"/><rect x="2.6" y="0.6" width="3.2" height="9" rx="0.6" fill="#f06a1e"/><rect x="10.4" y="-7.8" width="2.8" height="19.2" fill="#3a58c0"/><rect x="10.4" y="-7.8" width="2.8" height="2.5" fill="#2a3a80"/></g></g>
<text x="719.3" y="425.90000000000003" text-anchor="middle" font-size="8.4" font-weight="bold" fill="#fff">Light</text>
<g transform="translate(284.1,343.8)"><rect x="0" y="0" width="23.6" height="27" rx="1.2" fill="#1f79f0"/><path d="M7.2,2.8 L9,0.4 Q11.8,-2.5 14.6,0.4 L16.4,2.8 Z" fill="#9cc8f8" stroke="#e8f2ff" stroke-width="0.6"/><path d="M4.2,10.8 h6.8 M4.2,18.9 h6.8" stroke="#dbe9ff" stroke-width="1.4"/><path d="M13.8,10.2 l2,2 l3.6,-4.2 M13.8,16.4 l4.4,4.4 m0,-4.4 l-4.4,4.4" stroke="#dbe9ff" stroke-width="1.2" fill="none"/></g>
<g transform="translate(393.5,371.7)"><rect x="0" y="0" width="29" height="24.7" fill="#6cb6f8"/><rect x="2.4" y="5.1" width="3.8" height="3" fill="#b8c8b0" opacity="0.8"/><rect x="23.2" y="5.1" width="3.6" height="3" fill="#b8c8b0" opacity="0.8"/><rect x="2.4" y="11.8" width="3.8" height="3" fill="#b8c8b0" opacity="0.8"/><rect x="23.2" y="11.8" width="3.6" height="3" fill="#b8c8b0" opacity="0.8"/><rect x="2.4" y="17.7" width="3.8" height="3" fill="#b8c8b0" opacity="0.8"/><rect x="23.2" y="17.7" width="3.6" height="3" fill="#b8c8b0" opacity="0.8"/><path d="M8.3,0 V24.7 M20.4,0 V24.7" stroke="#5aa2e6" stroke-width="0.8"/><path d="M11.4,7.4 L20,12.2 L11.4,16.9 Z" fill="#b8c4a8" opacity="0.85"/></g>
<g transform="translate(489,401)" opacity="0.85"><rect x="3.1" y="0.2" width="8.1" height="15" rx="4" fill="#e46a6a"/><path d="M5.6,4 h3 M5.6,6.5 h3" stroke="#f4c0c0" stroke-width="0.9"/><path d="M0.6,10.5 Q0.6,18 7.15,18 Q13.7,18 13.7,10.5" fill="none" stroke="#e46a6a" stroke-width="1.6"/><path d="M7.15,18 V22" stroke="#e46a6a" stroke-width="1.6"/><rect x="2.6" y="21.6" width="10.4" height="1.6" fill="#e46a6a"/></g>
<g transform="translate(645.8,402.6)"><rect x="0" y="0" width="20.2" height="19.4" rx="1.6" fill="#52b22e"/><rect x="0" y="9" width="20.2" height="10.4" rx="1.6" fill="#46a026"/><rect x="5.4" y="5" width="9.9" height="6.7" fill="#6cbc44" stroke="#f0f8e8" stroke-width="1"/><path d="M3.2,13.1 H17.6 L16.6,14.9 H4.2 Z" fill="#f0f8e8"/><ellipse cx="21.6" cy="10.6" rx="4.5" ry="6.4" fill="#0e7e12"/><path d="M13.1,24.3 Q13.1,17.6 21.6,17.6 Q30.2,17.6 30.2,24.3 Z" fill="#0e7e12"/><path d="M19.5,15 L21.6,18.5 L23.7,15 Z" fill="#0e7e12"/></g>
<rect x="100.5" y="282.5" width="170" height="19.6" fill="#c9c4c4" opacity="0.6"/>
<rect x="99" y="281" width="170" height="19.6" fill="#f9c6cb"/>
<text x="107.5" y="295.2" font-size="11.1" font-weight="bold" fill="#111">KI-Lead Prof. Tobias Teich</text>
<text x="357" y="300.8" font-size="13.05" fill="#111"><tspan font-weight="bold">Modul „</tspan>Information Systems“/ Fachprofilmodul</text>
<text x="101.4" y="429.8" font-size="11" font-weight="bold" fill="#111">Lernpfade</text>
<circle cx="51.5" cy="55.6" r="26" fill="#b8b2ea"/><circle cx="51.5" cy="55.6" r="24" fill="#f0f0f8"/><circle cx="51.5" cy="55.6" r="23.1" fill="#5d5982"/>
<g fill="none" stroke="#f0f0f4" stroke-width="1.1"><path d="M38.6,49.4 L51.6,42.7 L64.6,49.4 Z"/><path d="M41.8,50.5 V62.6 M45.6,50.5 V62.6 M49.8,50.5 V62.6 M54,50.5 V62.6 M57.6,50.5 V62.6 M61,50.5 V62.6"/><rect x="38.8" y="63.3" width="25.6" height="4"/></g>
<circle cx="51.5" cy="182.2" r="25.7" fill="#6f9db6"/>
<path d="M40,188 L60,178 L77,195 L60,207 Z" fill="#6590aa" opacity="0.5" clip-path="url(#capclip)"/>
<clipPath id="capclip"><circle cx="51.5" cy="182.2" r="25.7"/></clipPath>
<g fill="#fff"><path d="M32.1,176.7 L51.2,169.2 L71.1,176.7 L51.2,183.2 Z"/><path d="M40.4,180.2 L51.2,184.2 L63,180.2 V189.5 Q51.7,194.5 40.4,189.5 Z"/><rect x="35.9" y="178" width="1.5" height="12"/><path d="M35,189.8 h3.4 l0.5,7.4 h-4.4 Z"/></g>
<ellipse cx="51.3" cy="331.5" rx="14" ry="1.6" fill="#d8ecec"/><circle cx="51.3" cy="306.3" r="24.8" fill="url(#gBook)"/>
<g><path d="M36.1,297.3 V316.4 H49.6 L51.2,317.6 L52.8,316.4 H67.3 V297.3" fill="none" stroke="#c8ecec" stroke-width="1"/><path d="M39.9,295.4 Q45,293.6 50.3,295.4 V313.2 Q45,311.6 39.9,313.2 Z" fill="#fbfefe"/><path d="M52.6,295.4 Q57.8,293.6 63,295.4 V313.2 Q57.8,311.6 52.6,313.2 Z" fill="#fbfefe"/><path d="M40.2,312.8 L42.5,309.5 L44.5,311 L47,308.5 L50,312.6 Z M52.9,312.6 L55.5,308.8 L57.5,310.8 L59.5,309 L62.7,312.6 Z" fill="#5cc0bc"/></g>
<polygon points="56.7,112.2 70,99.2 70,105.60000000000001 108.9,105.60000000000001 108.9,99.2 121.7,112.2 108.9,125.2 108.9,119.5 70,119.5 70,125.2" fill="#8a8a8a" opacity="0.45" transform="translate(1.5,1.8)"/>
<polygon points="56.7,112.2 70,99.2 70,105.60000000000001 108.9,105.60000000000001 108.9,99.2 121.7,112.2 108.9,125.2 108.9,119.5 70,119.5 70,125.2" fill="url(#gIO)" stroke="#9a9a9a" stroke-width="0.8"/>
<text x="90.6" y="115.5" text-anchor="middle" font-size="9" fill="#111">Input/Output</text>
<polygon points="56.7,232.7 70,219.7 70,226.1 108.9,226.1 108.9,219.7 121.7,232.7 108.9,245.7 108.9,240.0 70,240.0 70,245.7" fill="#8a8a8a" opacity="0.45" transform="translate(1.5,1.8)"/>
<polygon points="56.7,232.7 70,219.7 70,226.1 108.9,226.1 108.9,219.7 121.7,232.7 108.9,245.7 108.9,240.0 70,240.0 70,245.7" fill="url(#gIO)" stroke="#9a9a9a" stroke-width="0.8"/>
<text x="90.6" y="236.0" text-anchor="middle" font-size="9" fill="#111">Input/Output</text>
<polygon points="56.7,364.5 70,351.5 70,357.9 108.9,357.9 108.9,351.5 121.7,364.5 108.9,377.5 108.9,371.8 70,371.8 70,377.5" fill="#8a8a8a" opacity="0.45" transform="translate(1.5,1.8)"/>
<polygon points="56.7,364.5 70,351.5 70,357.9 108.9,357.9 108.9,351.5 121.7,364.5 108.9,377.5 108.9,371.8 70,371.8 70,377.5" fill="url(#gIO)" stroke="#9a9a9a" stroke-width="0.8"/>
<text x="90.6" y="367.8" text-anchor="middle" font-size="9" fill="#111">Input/Output</text>
</svg></body></html>
